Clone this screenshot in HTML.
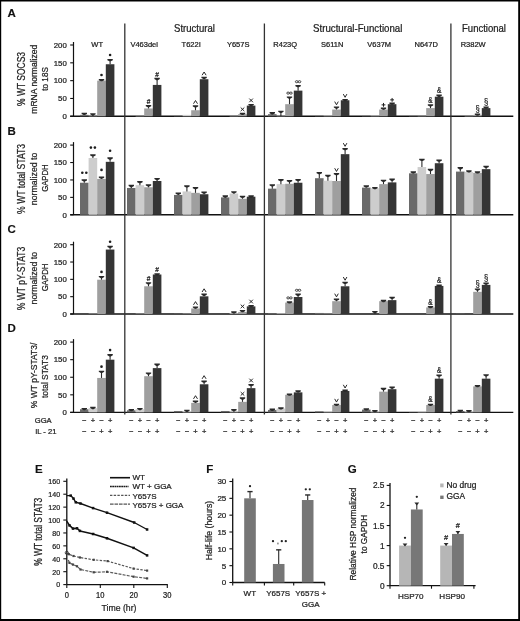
<!DOCTYPE html><html><head><meta charset="utf-8"><style>html,body{margin:0;padding:0;background:#fff;}svg{display:block;filter:blur(0.3px);}</style></head><body><svg width="520" height="621" viewBox="0 0 520 621" font-family='"Liberation Sans", sans-serif'>
<rect x="0" y="0" width="520" height="621" fill="#fff"/>
<text x="7.5" y="16.9" font-size="11.5" text-anchor="start" font-weight="bold" fill="#111" stroke="#111" stroke-width="0.15">A</text>
<line x1="73.5" y1="42.0" x2="73.5" y2="116.3" stroke="#111" stroke-width="1.2"/>
<line x1="70.2" y1="116.3" x2="73.5" y2="116.3" stroke="#111" stroke-width="1.1"/>
<text x="66.8" y="119.1" font-size="7.8" text-anchor="end" font-weight="normal" fill="#222" stroke="#222" stroke-width="0.24">0</text>
<line x1="70.2" y1="98.475" x2="73.5" y2="98.475" stroke="#111" stroke-width="1.1"/>
<text x="66.8" y="101.27499999999999" font-size="7.8" text-anchor="end" font-weight="normal" fill="#222" stroke="#222" stroke-width="0.24">50</text>
<line x1="70.2" y1="80.65" x2="73.5" y2="80.65" stroke="#111" stroke-width="1.1"/>
<text x="66.8" y="83.45" font-size="7.8" text-anchor="end" font-weight="normal" fill="#222" stroke="#222" stroke-width="0.24">100</text>
<line x1="70.2" y1="62.825" x2="73.5" y2="62.825" stroke="#111" stroke-width="1.1"/>
<text x="66.8" y="65.625" font-size="7.8" text-anchor="end" font-weight="normal" fill="#222" stroke="#222" stroke-width="0.24">150</text>
<line x1="70.2" y1="45.0" x2="73.5" y2="45.0" stroke="#111" stroke-width="1.1"/>
<text x="66.8" y="47.8" font-size="7.8" text-anchor="end" font-weight="normal" fill="#222" stroke="#222" stroke-width="0.24">200</text>
<line x1="70.2" y1="116.3" x2="513.3" y2="116.3" stroke="#111" stroke-width="1.4"/>
<text x="25.3" y="79.0" font-size="10.0" text-anchor="middle" font-weight="normal" fill="#222" stroke="#222" stroke-width="0.24" transform="rotate(-90 25.3 79.0)" textLength="54" lengthAdjust="spacingAndGlyphs">% WT SOCS3</text>
<text x="36.7" y="79.2" font-size="8.7" text-anchor="middle" font-weight="normal" fill="#222" stroke="#222" stroke-width="0.24" transform="rotate(-90 36.7 79.2)" textLength="69" lengthAdjust="spacingAndGlyphs">mRNA normalized</text>
<text x="47.9" y="78.9" font-size="9.0" text-anchor="middle" font-weight="normal" fill="#222" stroke="#222" stroke-width="0.24" transform="rotate(-90 47.9 78.9)" textLength="23.5" lengthAdjust="spacingAndGlyphs">to 18S</text>
<rect x="80.00" y="114.87" width="8.60" height="1.43" fill="#6a6a6a"/>
<line x1="84.3" y1="114.874" x2="84.3" y2="113.80449999999999" stroke="#2a2a2a" stroke-width="1.1"/>
<path d="M81.60,112.80 L87.00,112.80 L87.00,114.00 L85.00,115.10 L83.60,115.10 L81.60,114.00 Z" fill="#2a2a2a"/>
<rect x="88.60" y="115.94" width="8.60" height="0.36" fill="#cdcdcd"/>
<line x1="92.89999999999999" y1="115.9435" x2="92.89999999999999" y2="114.161" stroke="#2a2a2a" stroke-width="1.1"/>
<path d="M90.20,113.16 L95.60,113.16 L95.60,114.36 L93.60,115.46 L92.20,115.46 L90.20,114.36 Z" fill="#2a2a2a"/>
<rect x="97.20" y="80.65" width="8.60" height="35.65" fill="#9f9f9f"/>
<line x1="101.5" y1="80.65" x2="101.5" y2="79.93700000000001" stroke="#2a2a2a" stroke-width="1.1"/>
<path d="M98.80,78.94 L104.20,78.94 L104.20,80.14 L102.20,81.24 L100.80,81.24 L98.80,80.14 Z" fill="#2a2a2a"/>
<circle cx="101.50" cy="74.94" r="1.3" fill="#1e1e1e"/>
<rect x="105.80" y="64.25" width="8.60" height="52.05" fill="#353535"/>
<line x1="110.1" y1="64.251" x2="110.1" y2="59.973000000000006" stroke="#2a2a2a" stroke-width="1.1"/>
<path d="M107.40,58.97 L112.80,58.97 L112.80,60.17 L110.80,61.27 L109.40,61.27 L107.40,60.17 Z" fill="#2a2a2a"/>
<circle cx="110.10" cy="54.97" r="1.3" fill="#1e1e1e"/>
<rect x="135.60" y="115.94" width="8.60" height="0.36" fill="#cdcdcd"/>
<rect x="144.20" y="108.46" width="8.60" height="7.84" fill="#9f9f9f"/>
<line x1="148.5" y1="108.457" x2="148.5" y2="105.9615" stroke="#2a2a2a" stroke-width="1.1"/>
<path d="M145.80,104.96 L151.20,104.96 L151.20,106.16 L149.20,107.26 L147.80,107.26 L145.80,106.16 Z" fill="#2a2a2a"/>
<text x="148.5" y="103.6319" font-size="6.6" text-anchor="middle" font-weight="normal" fill="#1e1e1e" stroke="#1e1e1e" stroke-width="0.24">#</text>
<rect x="152.80" y="84.93" width="8.60" height="31.37" fill="#353535"/>
<line x1="157.10000000000002" y1="84.928" x2="157.10000000000002" y2="78.86749999999999" stroke="#2a2a2a" stroke-width="1.1"/>
<path d="M154.40,77.87 L159.80,77.87 L159.80,79.07 L157.80,80.17 L156.40,80.17 L154.40,79.07 Z" fill="#2a2a2a"/>
<text x="157.10000000000002" y="76.5379" font-size="6.6" text-anchor="middle" font-weight="normal" fill="#1e1e1e" stroke="#1e1e1e" stroke-width="0.24">#</text>
<rect x="174.00" y="115.94" width="8.60" height="0.36" fill="#6a6a6a"/>
<rect x="182.60" y="114.87" width="8.60" height="1.43" fill="#cdcdcd"/>
<rect x="191.20" y="110.24" width="8.60" height="6.06" fill="#9f9f9f"/>
<line x1="195.5" y1="110.23949999999999" x2="195.5" y2="106.318" stroke="#2a2a2a" stroke-width="1.1"/>
<path d="M192.80,105.32 L198.20,105.32 L198.20,106.52 L196.20,107.62 L194.80,107.62 L192.80,106.52 Z" fill="#2a2a2a"/>
<polyline points="193.50,103.72 195.50,100.52 197.50,103.72" fill="none" stroke="#1e1e1e" stroke-width="0.95"/>
<rect x="199.80" y="79.22" width="8.60" height="37.08" fill="#353535"/>
<line x1="204.10000000000002" y1="79.22399999999999" x2="204.10000000000002" y2="77.79799999999999" stroke="#2a2a2a" stroke-width="1.1"/>
<path d="M201.40,76.80 L206.80,76.80 L206.80,78.00 L204.80,79.10 L203.40,79.10 L201.40,78.00 Z" fill="#2a2a2a"/>
<polyline points="202.10,75.20 204.10,72.00 206.10,75.20" fill="none" stroke="#1e1e1e" stroke-width="0.95"/>
<rect x="229.60" y="115.94" width="8.60" height="0.36" fill="#cdcdcd"/>
<rect x="238.20" y="114.16" width="8.60" height="2.14" fill="#9f9f9f"/>
<line x1="242.5" y1="114.161" x2="242.5" y2="113.8045" stroke="#2a2a2a" stroke-width="1.1"/>
<path d="M239.80,112.80 L245.20,112.80 L245.20,114.00 L243.20,115.10 L241.80,115.10 L239.80,114.00 Z" fill="#2a2a2a"/>
<path d="M240.70,107.50 L244.30,111.10 M244.30,107.50 L240.70,111.10" stroke="#1e1e1e" stroke-width="0.95"/>
<rect x="246.80" y="105.60" width="8.60" height="10.70" fill="#353535"/>
<line x1="251.10000000000002" y1="105.60499999999999" x2="251.10000000000002" y2="104.892" stroke="#2a2a2a" stroke-width="1.1"/>
<path d="M248.40,103.89 L253.80,103.89 L253.80,105.09 L251.80,106.19 L250.40,106.19 L248.40,105.09 Z" fill="#2a2a2a"/>
<path d="M249.30,98.59 L252.90,102.19 M252.90,98.59 L249.30,102.19" stroke="#1e1e1e" stroke-width="0.95"/>
<rect x="268.00" y="114.16" width="8.60" height="2.14" fill="#6a6a6a"/>
<line x1="272.3" y1="114.161" x2="272.3" y2="113.0915" stroke="#2a2a2a" stroke-width="1.1"/>
<path d="M269.60,112.09 L275.00,112.09 L275.00,113.29 L273.00,114.39 L271.60,114.39 L269.60,113.29 Z" fill="#2a2a2a"/>
<rect x="276.60" y="115.94" width="8.60" height="0.36" fill="#cdcdcd"/>
<line x1="280.90000000000003" y1="115.9435" x2="280.90000000000003" y2="111.6655" stroke="#2a2a2a" stroke-width="1.1"/>
<path d="M278.20,110.67 L283.60,110.67 L283.60,111.87 L281.60,112.97 L280.20,112.97 L278.20,111.87 Z" fill="#2a2a2a"/>
<rect x="285.20" y="104.18" width="8.60" height="12.12" fill="#9f9f9f"/>
<line x1="289.5" y1="104.179" x2="289.5" y2="97.4055" stroke="#2a2a2a" stroke-width="1.1"/>
<path d="M286.80,96.41 L292.20,96.41 L292.20,97.61 L290.20,98.71 L288.80,98.71 L286.80,97.61 Z" fill="#2a2a2a"/>
<ellipse cx="288.10" cy="93.11" rx="1.35" ry="1.05" fill="none" stroke="#1e1e1e" stroke-width="0.8"/>
<ellipse cx="290.90" cy="93.11" rx="1.35" ry="1.05" fill="none" stroke="#1e1e1e" stroke-width="0.8"/>
<rect x="293.80" y="90.63" width="8.60" height="25.67" fill="#353535"/>
<line x1="298.1" y1="90.632" x2="298.1" y2="85.9975" stroke="#2a2a2a" stroke-width="1.1"/>
<path d="M295.40,85.00 L300.80,85.00 L300.80,86.20 L298.80,87.30 L297.40,87.30 L295.40,86.20 Z" fill="#2a2a2a"/>
<ellipse cx="296.70" cy="81.70" rx="1.35" ry="1.05" fill="none" stroke="#1e1e1e" stroke-width="0.8"/>
<ellipse cx="299.50" cy="81.70" rx="1.35" ry="1.05" fill="none" stroke="#1e1e1e" stroke-width="0.8"/>
<rect x="315.00" y="115.94" width="8.60" height="0.36" fill="#6a6a6a"/>
<rect x="323.60" y="115.59" width="8.60" height="0.71" fill="#cdcdcd"/>
<rect x="332.20" y="109.53" width="8.60" height="6.77" fill="#9f9f9f"/>
<line x1="336.5" y1="109.5265" x2="336.5" y2="107.3875" stroke="#2a2a2a" stroke-width="1.1"/>
<path d="M333.80,106.39 L339.20,106.39 L339.20,107.59 L337.20,108.69 L335.80,108.69 L333.80,107.59 Z" fill="#2a2a2a"/>
<polyline points="334.70,101.59 336.50,104.79 338.30,101.59" fill="none" stroke="#1e1e1e" stroke-width="0.95"/>
<rect x="340.80" y="100.26" width="8.60" height="16.04" fill="#353535"/>
<line x1="345.1" y1="100.2575" x2="345.1" y2="99.901" stroke="#2a2a2a" stroke-width="1.1"/>
<path d="M342.40,98.90 L347.80,98.90 L347.80,100.10 L345.80,101.20 L344.40,101.20 L342.40,100.10 Z" fill="#2a2a2a"/>
<polyline points="343.30,94.10 345.10,97.30 346.90,94.10" fill="none" stroke="#1e1e1e" stroke-width="0.95"/>
<rect x="362.00" y="115.94" width="8.60" height="0.36" fill="#6a6a6a"/>
<rect x="370.60" y="115.59" width="8.60" height="0.71" fill="#cdcdcd"/>
<rect x="379.20" y="109.53" width="8.60" height="6.77" fill="#9f9f9f"/>
<line x1="383.5" y1="109.5265" x2="383.5" y2="108.457" stroke="#2a2a2a" stroke-width="1.1"/>
<path d="M380.80,107.46 L386.20,107.46 L386.20,108.66 L384.20,109.76 L382.80,109.76 L380.80,108.66 Z" fill="#2a2a2a"/>
<path d="M381.60,104.86 L385.40,104.86 M383.50,102.96 L383.50,106.76" stroke="#1e1e1e" stroke-width="1.0"/>
<rect x="387.80" y="104.18" width="8.60" height="12.12" fill="#353535"/>
<line x1="392.1" y1="104.179" x2="392.1" y2="103.46600000000001" stroke="#2a2a2a" stroke-width="1.1"/>
<path d="M389.40,102.47 L394.80,102.47 L394.80,103.67 L392.80,104.77 L391.40,104.77 L389.40,103.67 Z" fill="#2a2a2a"/>
<path d="M390.20,99.87 L394.00,99.87 M392.10,97.97 L392.10,101.77" stroke="#1e1e1e" stroke-width="1.0"/>
<rect x="409.00" y="115.94" width="8.60" height="0.36" fill="#6a6a6a"/>
<rect x="417.60" y="115.94" width="8.60" height="0.36" fill="#cdcdcd"/>
<rect x="426.20" y="108.10" width="8.60" height="8.20" fill="#9f9f9f"/>
<line x1="430.5" y1="108.1005" x2="430.5" y2="105.24849999999999" stroke="#2a2a2a" stroke-width="1.1"/>
<path d="M427.80,104.25 L433.20,104.25 L433.20,105.45 L431.20,106.55 L429.80,106.55 L427.80,105.45 Z" fill="#2a2a2a"/>
<text x="430.5" y="102.7045" font-size="8.8" text-anchor="middle" font-weight="normal" fill="#1e1e1e" stroke="#1e1e1e" stroke-width="0.24" textLength="4.4" lengthAdjust="spacingAndGlyphs">&amp;</text>
<rect x="434.80" y="96.69" width="8.60" height="19.61" fill="#353535"/>
<line x1="439.1" y1="96.6925" x2="439.1" y2="95.62299999999999" stroke="#2a2a2a" stroke-width="1.1"/>
<path d="M436.40,94.62 L441.80,94.62 L441.80,95.82 L439.80,96.92 L438.40,96.92 L436.40,95.82 Z" fill="#2a2a2a"/>
<text x="439.1" y="93.079" font-size="8.8" text-anchor="middle" font-weight="normal" fill="#1e1e1e" stroke="#1e1e1e" stroke-width="0.24" textLength="4.4" lengthAdjust="spacingAndGlyphs">&amp;</text>
<rect x="464.60" y="115.94" width="8.60" height="0.36" fill="#cdcdcd"/>
<rect x="473.20" y="114.87" width="8.60" height="1.43" fill="#9f9f9f"/>
<line x1="477.5" y1="114.874" x2="477.5" y2="114.5175" stroke="#2a2a2a" stroke-width="1.1"/>
<path d="M474.80,113.52 L480.20,113.52 L480.20,114.72 L478.20,115.82 L476.80,115.82 L474.80,114.72 Z" fill="#2a2a2a"/>
<text x="477.5" y="112.4975" font-size="8.6" text-anchor="middle" font-weight="normal" fill="#1e1e1e" stroke="#1e1e1e" stroke-width="0.24" textLength="4.2" lengthAdjust="spacingAndGlyphs">§</text>
<rect x="481.80" y="108.10" width="8.60" height="8.20" fill="#353535"/>
<line x1="486.1" y1="108.1005" x2="486.1" y2="107.3875" stroke="#2a2a2a" stroke-width="1.1"/>
<path d="M483.40,106.39 L488.80,106.39 L488.80,107.59 L486.80,108.69 L485.40,108.69 L483.40,107.59 Z" fill="#2a2a2a"/>
<text x="486.1" y="105.3675" font-size="8.6" text-anchor="middle" font-weight="normal" fill="#1e1e1e" stroke="#1e1e1e" stroke-width="0.24" textLength="4.2" lengthAdjust="spacingAndGlyphs">§</text>
<text x="7.5" y="134.6" font-size="11.5" text-anchor="start" font-weight="bold" fill="#111" stroke="#111" stroke-width="0.15">B</text>
<line x1="73.5" y1="142.1" x2="73.5" y2="214.8" stroke="#111" stroke-width="1.2"/>
<line x1="70.2" y1="214.8" x2="73.5" y2="214.8" stroke="#111" stroke-width="1.1"/>
<text x="66.8" y="217.60000000000002" font-size="7.8" text-anchor="end" font-weight="normal" fill="#222" stroke="#222" stroke-width="0.24">0</text>
<line x1="70.2" y1="197.375" x2="73.5" y2="197.375" stroke="#111" stroke-width="1.1"/>
<text x="66.8" y="200.175" font-size="7.8" text-anchor="end" font-weight="normal" fill="#222" stroke="#222" stroke-width="0.24">50</text>
<line x1="70.2" y1="179.95" x2="73.5" y2="179.95" stroke="#111" stroke-width="1.1"/>
<text x="66.8" y="182.75" font-size="7.8" text-anchor="end" font-weight="normal" fill="#222" stroke="#222" stroke-width="0.24">100</text>
<line x1="70.2" y1="162.525" x2="73.5" y2="162.525" stroke="#111" stroke-width="1.1"/>
<text x="66.8" y="165.32500000000002" font-size="7.8" text-anchor="end" font-weight="normal" fill="#222" stroke="#222" stroke-width="0.24">150</text>
<line x1="70.2" y1="145.1" x2="73.5" y2="145.1" stroke="#111" stroke-width="1.1"/>
<text x="66.8" y="147.9" font-size="7.8" text-anchor="end" font-weight="normal" fill="#222" stroke="#222" stroke-width="0.24">200</text>
<line x1="70.2" y1="214.8" x2="513.3" y2="214.8" stroke="#111" stroke-width="1.4"/>
<text x="25.3" y="178.9" font-size="10.0" text-anchor="middle" font-weight="normal" fill="#222" stroke="#222" stroke-width="0.24" transform="rotate(-90 25.3 178.9)" textLength="70" lengthAdjust="spacingAndGlyphs">% WT total STAT3</text>
<text x="36.7" y="178.9" font-size="8.7" text-anchor="middle" font-weight="normal" fill="#222" stroke="#222" stroke-width="0.24" transform="rotate(-90 36.7 178.9)" textLength="52.5" lengthAdjust="spacingAndGlyphs">normalized to</text>
<text x="47.9" y="178.1" font-size="9.0" text-anchor="middle" font-weight="normal" fill="#222" stroke="#222" stroke-width="0.24" transform="rotate(-90 47.9 178.1)" textLength="27.5" lengthAdjust="spacingAndGlyphs">GAPDH</text>
<rect x="80.00" y="182.74" width="8.60" height="32.06" fill="#6a6a6a"/>
<line x1="84.3" y1="182.738" x2="84.3" y2="180.2985" stroke="#2a2a2a" stroke-width="1.1"/>
<path d="M81.60,179.30 L87.00,179.30 L87.00,180.50 L85.00,181.60 L83.60,181.60 L81.60,180.50 Z" fill="#2a2a2a"/>
<circle cx="82.30" cy="172.70" r="1.3" fill="#1e1e1e"/>
<circle cx="86.30" cy="172.70" r="1.3" fill="#1e1e1e"/>
<rect x="88.60" y="157.99" width="8.60" height="56.81" fill="#cdcdcd"/>
<line x1="92.89999999999999" y1="157.9945" x2="92.89999999999999" y2="155.20649999999998" stroke="#2a2a2a" stroke-width="1.1"/>
<path d="M90.20,154.21 L95.60,154.21 L95.60,155.41 L93.60,156.51 L92.20,156.51 L90.20,155.41 Z" fill="#2a2a2a"/>
<circle cx="90.90" cy="147.61" r="1.3" fill="#1e1e1e"/>
<circle cx="94.90" cy="147.61" r="1.3" fill="#1e1e1e"/>
<rect x="97.20" y="178.90" width="8.60" height="35.90" fill="#9f9f9f"/>
<line x1="101.5" y1="178.9045" x2="101.5" y2="177.5105" stroke="#2a2a2a" stroke-width="1.1"/>
<path d="M98.80,176.51 L104.20,176.51 L104.20,177.71 L102.20,178.81 L100.80,178.81 L98.80,177.71 Z" fill="#2a2a2a"/>
<circle cx="101.50" cy="169.91" r="1.3" fill="#1e1e1e"/>
<rect x="105.80" y="161.83" width="8.60" height="52.97" fill="#353535"/>
<line x1="110.1" y1="161.828" x2="110.1" y2="158.343" stroke="#2a2a2a" stroke-width="1.1"/>
<path d="M107.40,157.34 L112.80,157.34 L112.80,158.54 L110.80,159.64 L109.40,159.64 L107.40,158.54 Z" fill="#2a2a2a"/>
<circle cx="110.10" cy="150.74" r="1.3" fill="#1e1e1e"/>
<rect x="127.00" y="187.97" width="8.60" height="26.83" fill="#6a6a6a"/>
<line x1="131.3" y1="187.96550000000002" x2="131.3" y2="185.8745" stroke="#2a2a2a" stroke-width="1.1"/>
<path d="M128.60,184.87 L134.00,184.87 L134.00,186.07 L132.00,187.17 L130.60,187.17 L128.60,186.07 Z" fill="#2a2a2a"/>
<rect x="135.60" y="185.18" width="8.60" height="29.62" fill="#cdcdcd"/>
<line x1="139.9" y1="185.1775" x2="139.9" y2="182.041" stroke="#2a2a2a" stroke-width="1.1"/>
<path d="M137.20,181.04 L142.60,181.04 L142.60,182.24 L140.60,183.34 L139.20,183.34 L137.20,182.24 Z" fill="#2a2a2a"/>
<rect x="144.20" y="187.27" width="8.60" height="27.53" fill="#9f9f9f"/>
<line x1="148.5" y1="187.26850000000002" x2="148.5" y2="185.1775" stroke="#2a2a2a" stroke-width="1.1"/>
<path d="M145.80,184.18 L151.20,184.18 L151.20,185.38 L149.20,186.48 L147.80,186.48 L145.80,185.38 Z" fill="#2a2a2a"/>
<rect x="152.80" y="181.00" width="8.60" height="33.80" fill="#353535"/>
<line x1="157.10000000000002" y1="180.9955" x2="157.10000000000002" y2="178.90449999999998" stroke="#2a2a2a" stroke-width="1.1"/>
<path d="M154.40,177.90 L159.80,177.90 L159.80,179.10 L157.80,180.20 L156.40,180.20 L154.40,179.10 Z" fill="#2a2a2a"/>
<rect x="174.00" y="194.94" width="8.60" height="19.86" fill="#6a6a6a"/>
<line x1="178.3" y1="194.9355" x2="178.3" y2="193.54149999999998" stroke="#2a2a2a" stroke-width="1.1"/>
<path d="M175.60,192.54 L181.00,192.54 L181.00,193.74 L179.00,194.84 L177.60,194.84 L175.60,193.74 Z" fill="#2a2a2a"/>
<rect x="182.60" y="191.45" width="8.60" height="23.35" fill="#cdcdcd"/>
<line x1="186.9" y1="191.4505" x2="186.9" y2="186.223" stroke="#2a2a2a" stroke-width="1.1"/>
<path d="M184.20,185.22 L189.60,185.22 L189.60,186.42 L187.60,187.52 L186.20,187.52 L184.20,186.42 Z" fill="#2a2a2a"/>
<rect x="191.20" y="192.84" width="8.60" height="21.96" fill="#9f9f9f"/>
<line x1="195.5" y1="192.8445" x2="195.5" y2="187.96550000000002" stroke="#2a2a2a" stroke-width="1.1"/>
<path d="M192.80,186.97 L198.20,186.97 L198.20,188.17 L196.20,189.27 L194.80,189.27 L192.80,188.17 Z" fill="#2a2a2a"/>
<rect x="199.80" y="194.24" width="8.60" height="20.56" fill="#353535"/>
<line x1="204.10000000000002" y1="194.23850000000002" x2="204.10000000000002" y2="192.496" stroke="#2a2a2a" stroke-width="1.1"/>
<path d="M201.40,191.50 L206.80,191.50 L206.80,192.70 L204.80,193.80 L203.40,193.80 L201.40,192.70 Z" fill="#2a2a2a"/>
<rect x="221.00" y="197.38" width="8.60" height="17.43" fill="#6a6a6a"/>
<line x1="225.3" y1="197.375" x2="225.3" y2="196.3295" stroke="#2a2a2a" stroke-width="1.1"/>
<path d="M222.60,195.33 L228.00,195.33 L228.00,196.53 L226.00,197.63 L224.60,197.63 L222.60,196.53 Z" fill="#2a2a2a"/>
<rect x="229.60" y="193.54" width="8.60" height="21.26" fill="#cdcdcd"/>
<line x1="233.9" y1="193.5415" x2="233.9" y2="192.1475" stroke="#2a2a2a" stroke-width="1.1"/>
<path d="M231.20,191.15 L236.60,191.15 L236.60,192.35 L234.60,193.45 L233.20,193.45 L231.20,192.35 Z" fill="#2a2a2a"/>
<rect x="238.20" y="198.77" width="8.60" height="16.03" fill="#9f9f9f"/>
<line x1="242.5" y1="198.769" x2="242.5" y2="196.678" stroke="#2a2a2a" stroke-width="1.1"/>
<path d="M239.80,195.68 L245.20,195.68 L245.20,196.88 L243.20,197.98 L241.80,197.98 L239.80,196.88 Z" fill="#2a2a2a"/>
<rect x="246.80" y="196.68" width="8.60" height="18.12" fill="#353535"/>
<line x1="251.10000000000002" y1="196.678" x2="251.10000000000002" y2="196.3295" stroke="#2a2a2a" stroke-width="1.1"/>
<path d="M248.40,195.33 L253.80,195.33 L253.80,196.53 L251.80,197.63 L250.40,197.63 L248.40,196.53 Z" fill="#2a2a2a"/>
<rect x="268.00" y="188.66" width="8.60" height="26.14" fill="#6a6a6a"/>
<line x1="272.3" y1="188.6625" x2="272.3" y2="185.17749999999998" stroke="#2a2a2a" stroke-width="1.1"/>
<path d="M269.60,184.18 L275.00,184.18 L275.00,185.38 L273.00,186.48 L271.60,186.48 L269.60,185.38 Z" fill="#2a2a2a"/>
<rect x="276.60" y="184.13" width="8.60" height="30.67" fill="#cdcdcd"/>
<line x1="280.90000000000003" y1="184.132" x2="280.90000000000003" y2="179.95000000000002" stroke="#2a2a2a" stroke-width="1.1"/>
<path d="M278.20,178.95 L283.60,178.95 L283.60,180.15 L281.60,181.25 L280.20,181.25 L278.20,180.15 Z" fill="#2a2a2a"/>
<rect x="285.20" y="183.78" width="8.60" height="31.02" fill="#9f9f9f"/>
<line x1="289.5" y1="183.7835" x2="289.5" y2="180.9955" stroke="#2a2a2a" stroke-width="1.1"/>
<path d="M286.80,180.00 L292.20,180.00 L292.20,181.20 L290.20,182.30 L288.80,182.30 L286.80,181.20 Z" fill="#2a2a2a"/>
<rect x="293.80" y="182.74" width="8.60" height="32.06" fill="#353535"/>
<line x1="298.1" y1="182.738" x2="298.1" y2="179.95" stroke="#2a2a2a" stroke-width="1.1"/>
<path d="M295.40,178.95 L300.80,178.95 L300.80,180.15 L298.80,181.25 L297.40,181.25 L295.40,180.15 Z" fill="#2a2a2a"/>
<rect x="315.00" y="178.21" width="8.60" height="36.59" fill="#6a6a6a"/>
<line x1="319.3" y1="178.2075" x2="319.3" y2="172.98000000000002" stroke="#2a2a2a" stroke-width="1.1"/>
<path d="M316.60,171.98 L322.00,171.98 L322.00,173.18 L320.00,174.28 L318.60,174.28 L316.60,173.18 Z" fill="#2a2a2a"/>
<rect x="323.60" y="180.65" width="8.60" height="34.15" fill="#cdcdcd"/>
<line x1="327.90000000000003" y1="180.647" x2="327.90000000000003" y2="175.768" stroke="#2a2a2a" stroke-width="1.1"/>
<path d="M325.20,174.77 L330.60,174.77 L330.60,175.97 L328.60,177.07 L327.20,177.07 L325.20,175.97 Z" fill="#2a2a2a"/>
<rect x="332.20" y="181.00" width="8.60" height="33.80" fill="#9f9f9f"/>
<line x1="336.5" y1="180.9955" x2="336.5" y2="174.0255" stroke="#2a2a2a" stroke-width="1.1"/>
<path d="M333.80,173.03 L339.20,173.03 L339.20,174.23 L337.20,175.33 L335.80,175.33 L333.80,174.23 Z" fill="#2a2a2a"/>
<polyline points="334.70,168.23 336.50,171.43 338.30,168.23" fill="none" stroke="#1e1e1e" stroke-width="0.95"/>
<rect x="340.80" y="154.16" width="8.60" height="60.64" fill="#353535"/>
<line x1="345.1" y1="154.161" x2="345.1" y2="148.9335" stroke="#2a2a2a" stroke-width="1.1"/>
<path d="M342.40,147.93 L347.80,147.93 L347.80,149.13 L345.80,150.23 L344.40,150.23 L342.40,149.13 Z" fill="#2a2a2a"/>
<polyline points="343.30,143.13 345.10,146.33 346.90,143.13" fill="none" stroke="#1e1e1e" stroke-width="0.95"/>
<rect x="362.00" y="187.62" width="8.60" height="27.18" fill="#6a6a6a"/>
<line x1="366.3" y1="187.61700000000002" x2="366.3" y2="186.223" stroke="#2a2a2a" stroke-width="1.1"/>
<path d="M363.60,185.22 L369.00,185.22 L369.00,186.42 L367.00,187.52 L365.60,187.52 L363.60,186.42 Z" fill="#2a2a2a"/>
<rect x="370.60" y="188.31" width="8.60" height="26.49" fill="#cdcdcd"/>
<line x1="374.90000000000003" y1="188.314" x2="374.90000000000003" y2="187.9655" stroke="#2a2a2a" stroke-width="1.1"/>
<path d="M372.20,186.97 L377.60,186.97 L377.60,188.17 L375.60,189.27 L374.20,189.27 L372.20,188.17 Z" fill="#2a2a2a"/>
<rect x="379.20" y="184.13" width="8.60" height="30.67" fill="#9f9f9f"/>
<line x1="383.5" y1="184.132" x2="383.5" y2="180.647" stroke="#2a2a2a" stroke-width="1.1"/>
<path d="M380.80,179.65 L386.20,179.65 L386.20,180.85 L384.20,181.95 L382.80,181.95 L380.80,180.85 Z" fill="#2a2a2a"/>
<rect x="387.80" y="182.39" width="8.60" height="32.41" fill="#353535"/>
<line x1="392.1" y1="182.3895" x2="392.1" y2="179.6015" stroke="#2a2a2a" stroke-width="1.1"/>
<path d="M389.40,178.60 L394.80,178.60 L394.80,179.80 L392.80,180.90 L391.40,180.90 L389.40,179.80 Z" fill="#2a2a2a"/>
<rect x="409.00" y="173.33" width="8.60" height="41.47" fill="#6a6a6a"/>
<line x1="413.3" y1="173.3285" x2="413.3" y2="172.283" stroke="#2a2a2a" stroke-width="1.1"/>
<path d="M410.60,171.28 L416.00,171.28 L416.00,172.48 L414.00,173.58 L412.60,173.58 L410.60,172.48 Z" fill="#2a2a2a"/>
<rect x="417.60" y="167.06" width="8.60" height="47.74" fill="#cdcdcd"/>
<line x1="421.90000000000003" y1="167.0555" x2="421.90000000000003" y2="159.737" stroke="#2a2a2a" stroke-width="1.1"/>
<path d="M419.20,158.74 L424.60,158.74 L424.60,159.94 L422.60,161.04 L421.20,161.04 L419.20,159.94 Z" fill="#2a2a2a"/>
<rect x="426.20" y="174.03" width="8.60" height="40.77" fill="#9f9f9f"/>
<line x1="430.5" y1="174.0255" x2="430.5" y2="169.8435" stroke="#2a2a2a" stroke-width="1.1"/>
<path d="M427.80,168.84 L433.20,168.84 L433.20,170.04 L431.20,171.14 L429.80,171.14 L427.80,170.04 Z" fill="#2a2a2a"/>
<rect x="434.80" y="163.22" width="8.60" height="51.58" fill="#353535"/>
<line x1="439.1" y1="163.222" x2="439.1" y2="160.434" stroke="#2a2a2a" stroke-width="1.1"/>
<path d="M436.40,159.43 L441.80,159.43 L441.80,160.63 L439.80,161.73 L438.40,161.73 L436.40,160.63 Z" fill="#2a2a2a"/>
<rect x="456.00" y="171.59" width="8.60" height="43.21" fill="#6a6a6a"/>
<line x1="460.3" y1="171.586" x2="460.3" y2="168.101" stroke="#2a2a2a" stroke-width="1.1"/>
<path d="M457.60,167.10 L463.00,167.10 L463.00,168.30 L461.00,169.40 L459.60,169.40 L457.60,168.30 Z" fill="#2a2a2a"/>
<rect x="464.60" y="171.93" width="8.60" height="42.87" fill="#cdcdcd"/>
<line x1="468.90000000000003" y1="171.9345" x2="468.90000000000003" y2="171.2375" stroke="#2a2a2a" stroke-width="1.1"/>
<path d="M466.20,170.24 L471.60,170.24 L471.60,171.44 L469.60,172.54 L468.20,172.54 L466.20,171.44 Z" fill="#2a2a2a"/>
<rect x="473.20" y="172.98" width="8.60" height="41.82" fill="#9f9f9f"/>
<line x1="477.5" y1="172.98000000000002" x2="477.5" y2="172.28300000000002" stroke="#2a2a2a" stroke-width="1.1"/>
<path d="M474.80,171.28 L480.20,171.28 L480.20,172.48 L478.20,173.58 L476.80,173.58 L474.80,172.48 Z" fill="#2a2a2a"/>
<rect x="481.80" y="169.15" width="8.60" height="45.65" fill="#353535"/>
<line x1="486.1" y1="169.1465" x2="486.1" y2="166.707" stroke="#2a2a2a" stroke-width="1.1"/>
<path d="M483.40,165.71 L488.80,165.71 L488.80,166.91 L486.80,168.01 L485.40,168.01 L483.40,166.91 Z" fill="#2a2a2a"/>
<text x="7.5" y="233.1" font-size="11.5" text-anchor="start" font-weight="bold" fill="#111" stroke="#111" stroke-width="0.15">C</text>
<line x1="73.5" y1="241.7" x2="73.5" y2="314.0" stroke="#111" stroke-width="1.2"/>
<line x1="70.2" y1="314.0" x2="73.5" y2="314.0" stroke="#111" stroke-width="1.1"/>
<text x="66.8" y="316.8" font-size="7.8" text-anchor="end" font-weight="normal" fill="#222" stroke="#222" stroke-width="0.24">0</text>
<line x1="70.2" y1="296.675" x2="73.5" y2="296.675" stroke="#111" stroke-width="1.1"/>
<text x="66.8" y="299.475" font-size="7.8" text-anchor="end" font-weight="normal" fill="#222" stroke="#222" stroke-width="0.24">50</text>
<line x1="70.2" y1="279.35" x2="73.5" y2="279.35" stroke="#111" stroke-width="1.1"/>
<text x="66.8" y="282.15000000000003" font-size="7.8" text-anchor="end" font-weight="normal" fill="#222" stroke="#222" stroke-width="0.24">100</text>
<line x1="70.2" y1="262.025" x2="73.5" y2="262.025" stroke="#111" stroke-width="1.1"/>
<text x="66.8" y="264.825" font-size="7.8" text-anchor="end" font-weight="normal" fill="#222" stroke="#222" stroke-width="0.24">150</text>
<line x1="70.2" y1="244.7" x2="73.5" y2="244.7" stroke="#111" stroke-width="1.1"/>
<text x="66.8" y="247.5" font-size="7.8" text-anchor="end" font-weight="normal" fill="#222" stroke="#222" stroke-width="0.24">200</text>
<line x1="70.2" y1="314.0" x2="513.3" y2="314.0" stroke="#111" stroke-width="1.4"/>
<text x="25.3" y="278.5" font-size="10.0" text-anchor="middle" font-weight="normal" fill="#222" stroke="#222" stroke-width="0.24" transform="rotate(-90 25.3 278.5)" textLength="63.5" lengthAdjust="spacingAndGlyphs">% WT pY-STAT3</text>
<text x="36.7" y="278.2" font-size="8.7" text-anchor="middle" font-weight="normal" fill="#222" stroke="#222" stroke-width="0.24" transform="rotate(-90 36.7 278.2)" textLength="52.5" lengthAdjust="spacingAndGlyphs">normalized to</text>
<text x="47.9" y="277.4" font-size="9.0" text-anchor="middle" font-weight="normal" fill="#222" stroke="#222" stroke-width="0.24" transform="rotate(-90 47.9 277.4)" textLength="27.5" lengthAdjust="spacingAndGlyphs">GAPDH</text>
<rect x="88.60" y="313.65" width="8.60" height="0.35" fill="#cdcdcd"/>
<rect x="97.20" y="279.70" width="8.60" height="34.30" fill="#9f9f9f"/>
<line x1="101.5" y1="279.6965" x2="101.5" y2="276.9245" stroke="#2a2a2a" stroke-width="1.1"/>
<path d="M98.80,275.92 L104.20,275.92 L104.20,277.12 L102.20,278.22 L100.80,278.22 L98.80,277.12 Z" fill="#2a2a2a"/>
<circle cx="101.50" cy="271.92" r="1.3" fill="#1e1e1e"/>
<rect x="105.80" y="249.55" width="8.60" height="64.45" fill="#353535"/>
<line x1="110.1" y1="249.551" x2="110.1" y2="246.779" stroke="#2a2a2a" stroke-width="1.1"/>
<path d="M107.40,245.78 L112.80,245.78 L112.80,246.98 L110.80,248.08 L109.40,248.08 L107.40,246.98 Z" fill="#2a2a2a"/>
<circle cx="110.10" cy="241.78" r="1.3" fill="#1e1e1e"/>
<rect x="135.60" y="313.65" width="8.60" height="0.35" fill="#cdcdcd"/>
<rect x="144.20" y="286.28" width="8.60" height="27.72" fill="#9f9f9f"/>
<line x1="148.5" y1="286.28" x2="148.5" y2="283.1615" stroke="#2a2a2a" stroke-width="1.1"/>
<path d="M145.80,282.16 L151.20,282.16 L151.20,283.36 L149.20,284.46 L147.80,284.46 L145.80,283.36 Z" fill="#2a2a2a"/>
<text x="148.5" y="280.83189999999996" font-size="6.6" text-anchor="middle" font-weight="normal" fill="#1e1e1e" stroke="#1e1e1e" stroke-width="0.24">#</text>
<rect x="152.80" y="274.50" width="8.60" height="39.50" fill="#353535"/>
<line x1="157.10000000000002" y1="274.499" x2="157.10000000000002" y2="274.15250000000003" stroke="#2a2a2a" stroke-width="1.1"/>
<path d="M154.40,273.15 L159.80,273.15 L159.80,274.35 L157.80,275.45 L156.40,275.45 L154.40,274.35 Z" fill="#2a2a2a"/>
<text x="157.10000000000002" y="271.8229" font-size="6.6" text-anchor="middle" font-weight="normal" fill="#1e1e1e" stroke="#1e1e1e" stroke-width="0.24">#</text>
<rect x="174.00" y="313.65" width="8.60" height="0.35" fill="#6a6a6a"/>
<rect x="182.60" y="313.65" width="8.60" height="0.35" fill="#cdcdcd"/>
<rect x="191.20" y="308.46" width="8.60" height="5.54" fill="#9f9f9f"/>
<line x1="195.5" y1="308.456" x2="195.5" y2="307.41650000000004" stroke="#2a2a2a" stroke-width="1.1"/>
<path d="M192.80,306.42 L198.20,306.42 L198.20,307.62 L196.20,308.72 L194.80,308.72 L192.80,307.62 Z" fill="#2a2a2a"/>
<polyline points="193.50,304.82 195.50,301.62 197.50,304.82" fill="none" stroke="#1e1e1e" stroke-width="0.95"/>
<rect x="199.80" y="296.33" width="8.60" height="17.67" fill="#353535"/>
<line x1="204.10000000000002" y1="296.3285" x2="204.10000000000002" y2="294.596" stroke="#2a2a2a" stroke-width="1.1"/>
<path d="M201.40,293.60 L206.80,293.60 L206.80,294.80 L204.80,295.90 L203.40,295.90 L201.40,294.80 Z" fill="#2a2a2a"/>
<polyline points="202.10,292.00 204.10,288.80 206.10,292.00" fill="none" stroke="#1e1e1e" stroke-width="0.95"/>
<rect x="229.60" y="313.31" width="8.60" height="0.69" fill="#cdcdcd"/>
<line x1="233.9" y1="313.307" x2="233.9" y2="312.26750000000004" stroke="#2a2a2a" stroke-width="1.1"/>
<path d="M231.20,311.27 L236.60,311.27 L236.60,312.47 L234.60,313.57 L233.20,313.57 L231.20,312.47 Z" fill="#2a2a2a"/>
<rect x="238.20" y="311.92" width="8.60" height="2.08" fill="#9f9f9f"/>
<line x1="242.5" y1="311.921" x2="242.5" y2="310.8815" stroke="#2a2a2a" stroke-width="1.1"/>
<path d="M239.80,309.88 L245.20,309.88 L245.20,311.08 L243.20,312.18 L241.80,312.18 L239.80,311.08 Z" fill="#2a2a2a"/>
<path d="M240.70,304.58 L244.30,308.18 M244.30,304.58 L240.70,308.18" stroke="#1e1e1e" stroke-width="0.95"/>
<rect x="246.80" y="306.38" width="8.60" height="7.62" fill="#353535"/>
<line x1="251.10000000000002" y1="306.377" x2="251.10000000000002" y2="306.0305" stroke="#2a2a2a" stroke-width="1.1"/>
<path d="M248.40,305.03 L253.80,305.03 L253.80,306.23 L251.80,307.33 L250.40,307.33 L248.40,306.23 Z" fill="#2a2a2a"/>
<path d="M249.30,299.73 L252.90,303.33 M252.90,299.73 L249.30,303.33" stroke="#1e1e1e" stroke-width="0.95"/>
<rect x="268.00" y="313.31" width="8.60" height="0.69" fill="#6a6a6a"/>
<rect x="276.60" y="313.31" width="8.60" height="0.69" fill="#cdcdcd"/>
<rect x="285.20" y="302.57" width="8.60" height="11.43" fill="#9f9f9f"/>
<line x1="289.5" y1="302.5655" x2="289.5" y2="302.219" stroke="#2a2a2a" stroke-width="1.1"/>
<path d="M286.80,301.22 L292.20,301.22 L292.20,302.42 L290.20,303.52 L288.80,303.52 L286.80,302.42 Z" fill="#2a2a2a"/>
<ellipse cx="288.10" cy="297.92" rx="1.35" ry="1.05" fill="none" stroke="#1e1e1e" stroke-width="0.8"/>
<ellipse cx="290.90" cy="297.92" rx="1.35" ry="1.05" fill="none" stroke="#1e1e1e" stroke-width="0.8"/>
<rect x="293.80" y="297.02" width="8.60" height="16.98" fill="#353535"/>
<line x1="298.1" y1="297.0215" x2="298.1" y2="294.596" stroke="#2a2a2a" stroke-width="1.1"/>
<path d="M295.40,293.60 L300.80,293.60 L300.80,294.80 L298.80,295.90 L297.40,295.90 L295.40,294.80 Z" fill="#2a2a2a"/>
<ellipse cx="296.70" cy="290.30" rx="1.35" ry="1.05" fill="none" stroke="#1e1e1e" stroke-width="0.8"/>
<ellipse cx="299.50" cy="290.30" rx="1.35" ry="1.05" fill="none" stroke="#1e1e1e" stroke-width="0.8"/>
<rect x="315.00" y="312.96" width="8.60" height="1.04" fill="#6a6a6a"/>
<rect x="323.60" y="313.65" width="8.60" height="0.35" fill="#cdcdcd"/>
<rect x="332.20" y="301.18" width="8.60" height="12.82" fill="#9f9f9f"/>
<line x1="336.5" y1="301.1795" x2="336.5" y2="299.447" stroke="#2a2a2a" stroke-width="1.1"/>
<path d="M333.80,298.45 L339.20,298.45 L339.20,299.65 L337.20,300.75 L335.80,300.75 L333.80,299.65 Z" fill="#2a2a2a"/>
<polyline points="334.70,293.65 336.50,296.85 338.30,293.65" fill="none" stroke="#1e1e1e" stroke-width="0.95"/>
<rect x="340.80" y="286.28" width="8.60" height="27.72" fill="#353535"/>
<line x1="345.1" y1="286.28" x2="345.1" y2="282.815" stroke="#2a2a2a" stroke-width="1.1"/>
<path d="M342.40,281.81 L347.80,281.81 L347.80,283.01 L345.80,284.12 L344.40,284.12 L342.40,283.01 Z" fill="#2a2a2a"/>
<polyline points="343.30,277.01 345.10,280.22 346.90,277.01" fill="none" stroke="#1e1e1e" stroke-width="0.95"/>
<line x1="374.90000000000003" y1="314.0" x2="374.90000000000003" y2="311.921" stroke="#2a2a2a" stroke-width="1.1"/>
<path d="M372.20,310.92 L377.60,310.92 L377.60,312.12 L375.60,313.22 L374.20,313.22 L372.20,312.12 Z" fill="#2a2a2a"/>
<rect x="379.20" y="301.18" width="8.60" height="12.82" fill="#9f9f9f"/>
<line x1="383.5" y1="301.1795" x2="383.5" y2="300.833" stroke="#2a2a2a" stroke-width="1.1"/>
<path d="M380.80,299.83 L386.20,299.83 L386.20,301.03 L384.20,302.13 L382.80,302.13 L380.80,301.03 Z" fill="#2a2a2a"/>
<rect x="387.80" y="300.14" width="8.60" height="13.86" fill="#353535"/>
<line x1="392.1" y1="300.14" x2="392.1" y2="297.7145" stroke="#2a2a2a" stroke-width="1.1"/>
<path d="M389.40,296.71 L394.80,296.71 L394.80,297.91 L392.80,299.01 L391.40,299.01 L389.40,297.91 Z" fill="#2a2a2a"/>
<rect x="426.20" y="307.42" width="8.60" height="6.58" fill="#9f9f9f"/>
<line x1="430.5" y1="307.4165" x2="430.5" y2="307.07" stroke="#2a2a2a" stroke-width="1.1"/>
<path d="M427.80,306.07 L433.20,306.07 L433.20,307.27 L431.20,308.37 L429.80,308.37 L427.80,307.27 Z" fill="#2a2a2a"/>
<text x="430.5" y="304.52599999999995" font-size="8.8" text-anchor="middle" font-weight="normal" fill="#1e1e1e" stroke="#1e1e1e" stroke-width="0.24" textLength="4.4" lengthAdjust="spacingAndGlyphs">&amp;</text>
<rect x="434.80" y="285.93" width="8.60" height="28.07" fill="#353535"/>
<line x1="439.1" y1="285.9335" x2="439.1" y2="285.587" stroke="#2a2a2a" stroke-width="1.1"/>
<path d="M436.40,284.59 L441.80,284.59 L441.80,285.79 L439.80,286.89 L438.40,286.89 L436.40,285.79 Z" fill="#2a2a2a"/>
<text x="439.1" y="283.043" font-size="8.8" text-anchor="middle" font-weight="normal" fill="#1e1e1e" stroke="#1e1e1e" stroke-width="0.24" textLength="4.4" lengthAdjust="spacingAndGlyphs">&amp;</text>
<rect x="456.00" y="313.65" width="8.60" height="0.35" fill="#6a6a6a"/>
<rect x="473.20" y="291.82" width="8.60" height="22.18" fill="#9f9f9f"/>
<line x1="477.5" y1="291.824" x2="477.5" y2="289.3985" stroke="#2a2a2a" stroke-width="1.1"/>
<path d="M474.80,288.40 L480.20,288.40 L480.20,289.60 L478.20,290.70 L476.80,290.70 L474.80,289.60 Z" fill="#2a2a2a"/>
<text x="477.5" y="287.3785" font-size="8.6" text-anchor="middle" font-weight="normal" fill="#1e1e1e" stroke="#1e1e1e" stroke-width="0.24" textLength="4.2" lengthAdjust="spacingAndGlyphs">§</text>
<rect x="481.80" y="284.89" width="8.60" height="29.11" fill="#353535"/>
<line x1="486.1" y1="284.894" x2="486.1" y2="283.508" stroke="#2a2a2a" stroke-width="1.1"/>
<path d="M483.40,282.51 L488.80,282.51 L488.80,283.71 L486.80,284.81 L485.40,284.81 L483.40,283.71 Z" fill="#2a2a2a"/>
<text x="486.1" y="281.48799999999994" font-size="8.6" text-anchor="middle" font-weight="normal" fill="#1e1e1e" stroke="#1e1e1e" stroke-width="0.24" textLength="4.2" lengthAdjust="spacingAndGlyphs">§</text>
<text x="7.5" y="331.9" font-size="11.5" text-anchor="start" font-weight="bold" fill="#111" stroke="#111" stroke-width="0.15">D</text>
<line x1="73.5" y1="339.1" x2="73.5" y2="412.4" stroke="#111" stroke-width="1.2"/>
<line x1="70.2" y1="412.4" x2="73.5" y2="412.4" stroke="#111" stroke-width="1.1"/>
<text x="66.8" y="415.2" font-size="7.8" text-anchor="end" font-weight="normal" fill="#222" stroke="#222" stroke-width="0.24">0</text>
<line x1="70.2" y1="394.825" x2="73.5" y2="394.825" stroke="#111" stroke-width="1.1"/>
<text x="66.8" y="397.625" font-size="7.8" text-anchor="end" font-weight="normal" fill="#222" stroke="#222" stroke-width="0.24">50</text>
<line x1="70.2" y1="377.25" x2="73.5" y2="377.25" stroke="#111" stroke-width="1.1"/>
<text x="66.8" y="380.05" font-size="7.8" text-anchor="end" font-weight="normal" fill="#222" stroke="#222" stroke-width="0.24">100</text>
<line x1="70.2" y1="359.675" x2="73.5" y2="359.675" stroke="#111" stroke-width="1.1"/>
<text x="66.8" y="362.475" font-size="7.8" text-anchor="end" font-weight="normal" fill="#222" stroke="#222" stroke-width="0.24">150</text>
<line x1="70.2" y1="342.1" x2="73.5" y2="342.1" stroke="#111" stroke-width="1.1"/>
<text x="66.8" y="344.90000000000003" font-size="7.8" text-anchor="end" font-weight="normal" fill="#222" stroke="#222" stroke-width="0.24">200</text>
<line x1="70.2" y1="412.4" x2="513.3" y2="412.4" stroke="#111" stroke-width="1.4"/>
<text x="36.9" y="375.4" font-size="9.6" text-anchor="middle" font-weight="normal" fill="#222" stroke="#222" stroke-width="0.24" transform="rotate(-90 36.9 375.4)" textLength="65.5" lengthAdjust="spacingAndGlyphs">% WT pY-STAT3/</text>
<text x="47.7" y="376.6" font-size="9.4" text-anchor="middle" font-weight="normal" fill="#222" stroke="#222" stroke-width="0.24" transform="rotate(-90 47.7 376.6)" textLength="42.8" lengthAdjust="spacingAndGlyphs">total STAT3</text>
<rect x="80.00" y="409.24" width="8.60" height="3.16" fill="#6a6a6a"/>
<line x1="84.3" y1="409.2365" x2="84.3" y2="408.885" stroke="#2a2a2a" stroke-width="1.1"/>
<path d="M81.60,407.88 L87.00,407.88 L87.00,409.08 L85.00,410.19 L83.60,410.19 L81.60,409.08 Z" fill="#2a2a2a"/>
<rect x="88.60" y="408.18" width="8.60" height="4.22" fill="#cdcdcd"/>
<line x1="92.89999999999999" y1="408.18199999999996" x2="92.89999999999999" y2="407.8305" stroke="#2a2a2a" stroke-width="1.1"/>
<path d="M90.20,406.83 L95.60,406.83 L95.60,408.03 L93.60,409.13 L92.20,409.13 L90.20,408.03 Z" fill="#2a2a2a"/>
<rect x="97.20" y="377.95" width="8.60" height="34.45" fill="#9f9f9f"/>
<line x1="101.5" y1="377.953" x2="101.5" y2="371.626" stroke="#2a2a2a" stroke-width="1.1"/>
<path d="M98.80,370.63 L104.20,370.63 L104.20,371.83 L102.20,372.93 L100.80,372.93 L98.80,371.83 Z" fill="#2a2a2a"/>
<circle cx="101.50" cy="366.63" r="1.3" fill="#1e1e1e"/>
<rect x="105.80" y="359.68" width="8.60" height="52.72" fill="#353535"/>
<line x1="110.1" y1="359.675" x2="110.1" y2="355.1055" stroke="#2a2a2a" stroke-width="1.1"/>
<path d="M107.40,354.11 L112.80,354.11 L112.80,355.31 L110.80,356.41 L109.40,356.41 L107.40,355.31 Z" fill="#2a2a2a"/>
<circle cx="110.10" cy="350.11" r="1.3" fill="#1e1e1e"/>
<rect x="127.00" y="410.29" width="8.60" height="2.11" fill="#6a6a6a"/>
<line x1="131.3" y1="410.291" x2="131.3" y2="409.9395" stroke="#2a2a2a" stroke-width="1.1"/>
<path d="M128.60,408.94 L134.00,408.94 L134.00,410.14 L132.00,411.24 L130.60,411.24 L128.60,410.14 Z" fill="#2a2a2a"/>
<rect x="135.60" y="409.24" width="8.60" height="3.16" fill="#cdcdcd"/>
<line x1="139.9" y1="409.2365" x2="139.9" y2="408.885" stroke="#2a2a2a" stroke-width="1.1"/>
<path d="M137.20,407.88 L142.60,407.88 L142.60,409.08 L140.60,410.19 L139.20,410.19 L137.20,409.08 Z" fill="#2a2a2a"/>
<rect x="144.20" y="376.20" width="8.60" height="36.20" fill="#9f9f9f"/>
<line x1="148.5" y1="376.1955" x2="148.5" y2="373.38349999999997" stroke="#2a2a2a" stroke-width="1.1"/>
<path d="M145.80,372.38 L151.20,372.38 L151.20,373.58 L149.20,374.68 L147.80,374.68 L145.80,373.58 Z" fill="#2a2a2a"/>
<rect x="152.80" y="368.11" width="8.60" height="44.29" fill="#353535"/>
<line x1="157.10000000000002" y1="368.111" x2="157.10000000000002" y2="364.596" stroke="#2a2a2a" stroke-width="1.1"/>
<path d="M154.40,363.60 L159.80,363.60 L159.80,364.80 L157.80,365.90 L156.40,365.90 L154.40,364.80 Z" fill="#2a2a2a"/>
<rect x="174.00" y="410.99" width="8.60" height="1.41" fill="#6a6a6a"/>
<rect x="182.60" y="411.35" width="8.60" height="1.05" fill="#cdcdcd"/>
<line x1="186.9" y1="411.34549999999996" x2="186.9" y2="410.6425" stroke="#2a2a2a" stroke-width="1.1"/>
<path d="M184.20,409.64 L189.60,409.64 L189.60,410.84 L187.60,411.94 L186.20,411.94 L184.20,410.84 Z" fill="#2a2a2a"/>
<rect x="191.20" y="402.91" width="8.60" height="9.49" fill="#9f9f9f"/>
<line x1="195.5" y1="402.9095" x2="195.5" y2="401.5035" stroke="#2a2a2a" stroke-width="1.1"/>
<path d="M192.80,400.50 L198.20,400.50 L198.20,401.70 L196.20,402.80 L194.80,402.80 L192.80,401.70 Z" fill="#2a2a2a"/>
<polyline points="193.50,398.90 195.50,395.70 197.50,398.90" fill="none" stroke="#1e1e1e" stroke-width="0.95"/>
<rect x="199.80" y="384.28" width="8.60" height="28.12" fill="#353535"/>
<line x1="204.10000000000002" y1="384.28" x2="204.10000000000002" y2="381.46799999999996" stroke="#2a2a2a" stroke-width="1.1"/>
<path d="M201.40,380.47 L206.80,380.47 L206.80,381.67 L204.80,382.77 L203.40,382.77 L201.40,381.67 Z" fill="#2a2a2a"/>
<polyline points="202.10,378.87 204.10,375.67 206.10,378.87" fill="none" stroke="#1e1e1e" stroke-width="0.95"/>
<rect x="221.00" y="410.99" width="8.60" height="1.41" fill="#6a6a6a"/>
<rect x="229.60" y="411.70" width="8.60" height="0.70" fill="#cdcdcd"/>
<line x1="233.9" y1="411.697" x2="233.9" y2="409.9395" stroke="#2a2a2a" stroke-width="1.1"/>
<path d="M231.20,408.94 L236.60,408.94 L236.60,410.14 L234.60,411.24 L233.20,411.24 L231.20,410.14 Z" fill="#2a2a2a"/>
<rect x="238.20" y="401.85" width="8.60" height="10.54" fill="#9f9f9f"/>
<line x1="242.5" y1="401.85499999999996" x2="242.5" y2="398.34" stroke="#2a2a2a" stroke-width="1.1"/>
<path d="M239.80,397.34 L245.20,397.34 L245.20,398.54 L243.20,399.64 L241.80,399.64 L239.80,398.54 Z" fill="#2a2a2a"/>
<path d="M240.70,392.04 L244.30,395.64 M244.30,392.04 L240.70,395.64" stroke="#1e1e1e" stroke-width="0.95"/>
<rect x="246.80" y="388.15" width="8.60" height="24.25" fill="#353535"/>
<line x1="251.10000000000002" y1="388.1465" x2="251.10000000000002" y2="384.983" stroke="#2a2a2a" stroke-width="1.1"/>
<path d="M248.40,383.98 L253.80,383.98 L253.80,385.18 L251.80,386.28 L250.40,386.28 L248.40,385.18 Z" fill="#2a2a2a"/>
<path d="M249.30,378.68 L252.90,382.28 M252.90,378.68 L249.30,382.28" stroke="#1e1e1e" stroke-width="0.95"/>
<rect x="268.00" y="409.94" width="8.60" height="2.46" fill="#6a6a6a"/>
<line x1="272.3" y1="409.93949999999995" x2="272.3" y2="409.58799999999997" stroke="#2a2a2a" stroke-width="1.1"/>
<path d="M269.60,408.59 L275.00,408.59 L275.00,409.79 L273.00,410.89 L271.60,410.89 L269.60,409.79 Z" fill="#2a2a2a"/>
<rect x="276.60" y="408.53" width="8.60" height="3.87" fill="#cdcdcd"/>
<line x1="280.90000000000003" y1="408.5335" x2="280.90000000000003" y2="408.182" stroke="#2a2a2a" stroke-width="1.1"/>
<path d="M278.20,407.18 L283.60,407.18 L283.60,408.38 L281.60,409.48 L280.20,409.48 L278.20,408.38 Z" fill="#2a2a2a"/>
<rect x="285.20" y="394.82" width="8.60" height="17.57" fill="#9f9f9f"/>
<line x1="289.5" y1="394.825" x2="289.5" y2="394.4735" stroke="#2a2a2a" stroke-width="1.1"/>
<path d="M286.80,393.47 L292.20,393.47 L292.20,394.67 L290.20,395.77 L288.80,395.77 L286.80,394.67 Z" fill="#2a2a2a"/>
<rect x="293.80" y="392.36" width="8.60" height="20.04" fill="#353535"/>
<line x1="298.1" y1="392.3645" x2="298.1" y2="391.31" stroke="#2a2a2a" stroke-width="1.1"/>
<path d="M295.40,390.31 L300.80,390.31 L300.80,391.51 L298.80,392.61 L297.40,392.61 L295.40,391.51 Z" fill="#2a2a2a"/>
<rect x="315.00" y="411.35" width="8.60" height="1.05" fill="#6a6a6a"/>
<rect x="323.60" y="411.70" width="8.60" height="0.70" fill="#cdcdcd"/>
<rect x="332.20" y="405.02" width="8.60" height="7.38" fill="#9f9f9f"/>
<line x1="336.5" y1="405.01849999999996" x2="336.5" y2="404.667" stroke="#2a2a2a" stroke-width="1.1"/>
<path d="M333.80,403.67 L339.20,403.67 L339.20,404.87 L337.20,405.97 L335.80,405.97 L333.80,404.87 Z" fill="#2a2a2a"/>
<polyline points="334.70,398.87 336.50,402.07 338.30,398.87" fill="none" stroke="#1e1e1e" stroke-width="0.95"/>
<rect x="340.80" y="390.96" width="8.60" height="21.44" fill="#353535"/>
<line x1="345.1" y1="390.9585" x2="345.1" y2="390.607" stroke="#2a2a2a" stroke-width="1.1"/>
<path d="M342.40,389.61 L347.80,389.61 L347.80,390.81 L345.80,391.91 L344.40,391.91 L342.40,390.81 Z" fill="#2a2a2a"/>
<polyline points="343.30,384.81 345.10,388.01 346.90,384.81" fill="none" stroke="#1e1e1e" stroke-width="0.95"/>
<rect x="362.00" y="409.59" width="8.60" height="2.81" fill="#6a6a6a"/>
<line x1="366.3" y1="409.58799999999997" x2="366.3" y2="409.2365" stroke="#2a2a2a" stroke-width="1.1"/>
<path d="M363.60,408.24 L369.00,408.24 L369.00,409.44 L367.00,410.54 L365.60,410.54 L363.60,409.44 Z" fill="#2a2a2a"/>
<rect x="370.60" y="411.35" width="8.60" height="1.05" fill="#cdcdcd"/>
<line x1="374.90000000000003" y1="411.34549999999996" x2="374.90000000000003" y2="410.99399999999997" stroke="#2a2a2a" stroke-width="1.1"/>
<path d="M372.20,409.99 L377.60,409.99 L377.60,411.19 L375.60,412.29 L374.20,412.29 L372.20,411.19 Z" fill="#2a2a2a"/>
<rect x="379.20" y="391.66" width="8.60" height="20.74" fill="#9f9f9f"/>
<line x1="383.5" y1="391.6615" x2="383.5" y2="388.8495" stroke="#2a2a2a" stroke-width="1.1"/>
<path d="M380.80,387.85 L386.20,387.85 L386.20,389.05 L384.20,390.15 L382.80,390.15 L380.80,389.05 Z" fill="#2a2a2a"/>
<rect x="387.80" y="389.20" width="8.60" height="23.20" fill="#353535"/>
<line x1="392.1" y1="389.201" x2="392.1" y2="387.44350000000003" stroke="#2a2a2a" stroke-width="1.1"/>
<path d="M389.40,386.44 L394.80,386.44 L394.80,387.64 L392.80,388.74 L391.40,388.74 L389.40,387.64 Z" fill="#2a2a2a"/>
<rect x="409.00" y="412.05" width="8.60" height="0.35" fill="#6a6a6a"/>
<rect x="417.60" y="411.70" width="8.60" height="0.70" fill="#cdcdcd"/>
<rect x="426.20" y="405.02" width="8.60" height="7.38" fill="#9f9f9f"/>
<line x1="430.5" y1="405.01849999999996" x2="430.5" y2="404.667" stroke="#2a2a2a" stroke-width="1.1"/>
<path d="M427.80,403.67 L433.20,403.67 L433.20,404.87 L431.20,405.97 L429.80,405.97 L427.80,404.87 Z" fill="#2a2a2a"/>
<text x="430.5" y="402.12299999999993" font-size="8.8" text-anchor="middle" font-weight="normal" fill="#1e1e1e" stroke="#1e1e1e" stroke-width="0.24" textLength="4.4" lengthAdjust="spacingAndGlyphs">&amp;</text>
<rect x="434.80" y="378.66" width="8.60" height="33.74" fill="#353535"/>
<line x1="439.1" y1="378.656" x2="439.1" y2="375.4925" stroke="#2a2a2a" stroke-width="1.1"/>
<path d="M436.40,374.49 L441.80,374.49 L441.80,375.69 L439.80,376.79 L438.40,376.79 L436.40,375.69 Z" fill="#2a2a2a"/>
<text x="439.1" y="372.94849999999997" font-size="8.8" text-anchor="middle" font-weight="normal" fill="#1e1e1e" stroke="#1e1e1e" stroke-width="0.24" textLength="4.4" lengthAdjust="spacingAndGlyphs">&amp;</text>
<rect x="456.00" y="410.99" width="8.60" height="1.41" fill="#6a6a6a"/>
<line x1="460.3" y1="410.99399999999997" x2="460.3" y2="410.6425" stroke="#2a2a2a" stroke-width="1.1"/>
<path d="M457.60,409.64 L463.00,409.64 L463.00,410.84 L461.00,411.94 L459.60,411.94 L457.60,410.84 Z" fill="#2a2a2a"/>
<rect x="464.60" y="411.35" width="8.60" height="1.05" fill="#cdcdcd"/>
<line x1="468.90000000000003" y1="411.34549999999996" x2="468.90000000000003" y2="410.99399999999997" stroke="#2a2a2a" stroke-width="1.1"/>
<path d="M466.20,409.99 L471.60,409.99 L471.60,411.19 L469.60,412.29 L468.20,412.29 L466.20,411.19 Z" fill="#2a2a2a"/>
<rect x="473.20" y="386.39" width="8.60" height="26.01" fill="#9f9f9f"/>
<line x1="477.5" y1="386.389" x2="477.5" y2="386.0375" stroke="#2a2a2a" stroke-width="1.1"/>
<path d="M474.80,385.04 L480.20,385.04 L480.20,386.24 L478.20,387.34 L476.80,387.34 L474.80,386.24 Z" fill="#2a2a2a"/>
<rect x="481.80" y="378.66" width="8.60" height="33.74" fill="#353535"/>
<line x1="486.1" y1="378.656" x2="486.1" y2="375.141" stroke="#2a2a2a" stroke-width="1.1"/>
<path d="M483.40,374.14 L488.80,374.14 L488.80,375.34 L486.80,376.44 L485.40,376.44 L483.40,375.34 Z" fill="#2a2a2a"/>
<line x1="124.8" y1="23.4" x2="124.8" y2="414.5" stroke="#333" stroke-width="1.3"/>
<line x1="264.4" y1="23.4" x2="264.4" y2="414.5" stroke="#333" stroke-width="1.3"/>
<line x1="450.9" y1="23.4" x2="450.9" y2="414.5" stroke="#333" stroke-width="1.3"/>
<text x="194.5" y="31.6" font-size="10.2" text-anchor="middle" font-weight="normal" fill="#222" stroke="#222" stroke-width="0.24" textLength="40.8" lengthAdjust="spacingAndGlyphs">Structural</text>
<text x="357.7" y="31.6" font-size="10.2" text-anchor="middle" font-weight="normal" fill="#222" stroke="#222" stroke-width="0.24" textLength="89.3" lengthAdjust="spacingAndGlyphs">Structural-Functional</text>
<text x="484.0" y="31.6" font-size="10.2" text-anchor="middle" font-weight="normal" fill="#222" stroke="#222" stroke-width="0.24" textLength="44.0" lengthAdjust="spacingAndGlyphs">Functional</text>
<text x="97.2" y="46.5" font-size="7.5" text-anchor="middle" font-weight="normal" fill="#222" stroke="#222" stroke-width="0.24">WT</text>
<text x="144.2" y="46.5" font-size="7.5" text-anchor="middle" font-weight="normal" fill="#222" stroke="#222" stroke-width="0.24">V463del</text>
<text x="191.2" y="46.5" font-size="7.5" text-anchor="middle" font-weight="normal" fill="#222" stroke="#222" stroke-width="0.24">T622I</text>
<text x="238.2" y="46.5" font-size="7.5" text-anchor="middle" font-weight="normal" fill="#222" stroke="#222" stroke-width="0.24">Y657S</text>
<text x="285.2" y="46.5" font-size="7.5" text-anchor="middle" font-weight="normal" fill="#222" stroke="#222" stroke-width="0.24">R423Q</text>
<text x="332.2" y="46.5" font-size="7.5" text-anchor="middle" font-weight="normal" fill="#222" stroke="#222" stroke-width="0.24">S611N</text>
<text x="379.2" y="46.5" font-size="7.5" text-anchor="middle" font-weight="normal" fill="#222" stroke="#222" stroke-width="0.24">V637M</text>
<text x="426.2" y="46.5" font-size="7.5" text-anchor="middle" font-weight="normal" fill="#222" stroke="#222" stroke-width="0.24">N647D</text>
<text x="473.2" y="46.5" font-size="7.5" text-anchor="middle" font-weight="normal" fill="#222" stroke="#222" stroke-width="0.24">R382W</text>
<text x="34.8" y="422.7" font-size="7.6" text-anchor="start" font-weight="normal" fill="#222" stroke="#222" stroke-width="0.24">GGA</text>
<text x="35.2" y="433.6" font-size="7.6" text-anchor="start" font-weight="normal" fill="#222" stroke="#222" stroke-width="0.24">IL - 21</text>
<text x="84.3" y="422.8" font-size="7.5" text-anchor="middle" font-weight="normal" fill="#222" stroke="#222" stroke-width="0.24">−</text>
<text x="84.3" y="434.2" font-size="7.5" text-anchor="middle" font-weight="normal" fill="#222" stroke="#222" stroke-width="0.24">−</text>
<text x="92.89999999999999" y="422.8" font-size="7.5" text-anchor="middle" font-weight="normal" fill="#222" stroke="#222" stroke-width="0.24">+</text>
<text x="92.89999999999999" y="434.2" font-size="7.5" text-anchor="middle" font-weight="normal" fill="#222" stroke="#222" stroke-width="0.24">−</text>
<text x="101.5" y="422.8" font-size="7.5" text-anchor="middle" font-weight="normal" fill="#222" stroke="#222" stroke-width="0.24">−</text>
<text x="101.5" y="434.2" font-size="7.5" text-anchor="middle" font-weight="normal" fill="#222" stroke="#222" stroke-width="0.24">+</text>
<text x="110.1" y="422.8" font-size="7.5" text-anchor="middle" font-weight="normal" fill="#222" stroke="#222" stroke-width="0.24">+</text>
<text x="110.1" y="434.2" font-size="7.5" text-anchor="middle" font-weight="normal" fill="#222" stroke="#222" stroke-width="0.24">+</text>
<text x="131.3" y="422.8" font-size="7.5" text-anchor="middle" font-weight="normal" fill="#222" stroke="#222" stroke-width="0.24">−</text>
<text x="131.3" y="434.2" font-size="7.5" text-anchor="middle" font-weight="normal" fill="#222" stroke="#222" stroke-width="0.24">−</text>
<text x="139.9" y="422.8" font-size="7.5" text-anchor="middle" font-weight="normal" fill="#222" stroke="#222" stroke-width="0.24">+</text>
<text x="139.9" y="434.2" font-size="7.5" text-anchor="middle" font-weight="normal" fill="#222" stroke="#222" stroke-width="0.24">−</text>
<text x="148.5" y="422.8" font-size="7.5" text-anchor="middle" font-weight="normal" fill="#222" stroke="#222" stroke-width="0.24">−</text>
<text x="148.5" y="434.2" font-size="7.5" text-anchor="middle" font-weight="normal" fill="#222" stroke="#222" stroke-width="0.24">+</text>
<text x="157.10000000000002" y="422.8" font-size="7.5" text-anchor="middle" font-weight="normal" fill="#222" stroke="#222" stroke-width="0.24">+</text>
<text x="157.10000000000002" y="434.2" font-size="7.5" text-anchor="middle" font-weight="normal" fill="#222" stroke="#222" stroke-width="0.24">+</text>
<text x="178.3" y="422.8" font-size="7.5" text-anchor="middle" font-weight="normal" fill="#222" stroke="#222" stroke-width="0.24">−</text>
<text x="178.3" y="434.2" font-size="7.5" text-anchor="middle" font-weight="normal" fill="#222" stroke="#222" stroke-width="0.24">−</text>
<text x="186.9" y="422.8" font-size="7.5" text-anchor="middle" font-weight="normal" fill="#222" stroke="#222" stroke-width="0.24">+</text>
<text x="186.9" y="434.2" font-size="7.5" text-anchor="middle" font-weight="normal" fill="#222" stroke="#222" stroke-width="0.24">−</text>
<text x="195.5" y="422.8" font-size="7.5" text-anchor="middle" font-weight="normal" fill="#222" stroke="#222" stroke-width="0.24">−</text>
<text x="195.5" y="434.2" font-size="7.5" text-anchor="middle" font-weight="normal" fill="#222" stroke="#222" stroke-width="0.24">+</text>
<text x="204.10000000000002" y="422.8" font-size="7.5" text-anchor="middle" font-weight="normal" fill="#222" stroke="#222" stroke-width="0.24">+</text>
<text x="204.10000000000002" y="434.2" font-size="7.5" text-anchor="middle" font-weight="normal" fill="#222" stroke="#222" stroke-width="0.24">+</text>
<text x="225.3" y="422.8" font-size="7.5" text-anchor="middle" font-weight="normal" fill="#222" stroke="#222" stroke-width="0.24">−</text>
<text x="225.3" y="434.2" font-size="7.5" text-anchor="middle" font-weight="normal" fill="#222" stroke="#222" stroke-width="0.24">−</text>
<text x="233.9" y="422.8" font-size="7.5" text-anchor="middle" font-weight="normal" fill="#222" stroke="#222" stroke-width="0.24">+</text>
<text x="233.9" y="434.2" font-size="7.5" text-anchor="middle" font-weight="normal" fill="#222" stroke="#222" stroke-width="0.24">−</text>
<text x="242.5" y="422.8" font-size="7.5" text-anchor="middle" font-weight="normal" fill="#222" stroke="#222" stroke-width="0.24">−</text>
<text x="242.5" y="434.2" font-size="7.5" text-anchor="middle" font-weight="normal" fill="#222" stroke="#222" stroke-width="0.24">+</text>
<text x="251.10000000000002" y="422.8" font-size="7.5" text-anchor="middle" font-weight="normal" fill="#222" stroke="#222" stroke-width="0.24">+</text>
<text x="251.10000000000002" y="434.2" font-size="7.5" text-anchor="middle" font-weight="normal" fill="#222" stroke="#222" stroke-width="0.24">+</text>
<text x="272.3" y="422.8" font-size="7.5" text-anchor="middle" font-weight="normal" fill="#222" stroke="#222" stroke-width="0.24">−</text>
<text x="272.3" y="434.2" font-size="7.5" text-anchor="middle" font-weight="normal" fill="#222" stroke="#222" stroke-width="0.24">−</text>
<text x="280.90000000000003" y="422.8" font-size="7.5" text-anchor="middle" font-weight="normal" fill="#222" stroke="#222" stroke-width="0.24">+</text>
<text x="280.90000000000003" y="434.2" font-size="7.5" text-anchor="middle" font-weight="normal" fill="#222" stroke="#222" stroke-width="0.24">−</text>
<text x="289.5" y="422.8" font-size="7.5" text-anchor="middle" font-weight="normal" fill="#222" stroke="#222" stroke-width="0.24">−</text>
<text x="289.5" y="434.2" font-size="7.5" text-anchor="middle" font-weight="normal" fill="#222" stroke="#222" stroke-width="0.24">+</text>
<text x="298.1" y="422.8" font-size="7.5" text-anchor="middle" font-weight="normal" fill="#222" stroke="#222" stroke-width="0.24">+</text>
<text x="298.1" y="434.2" font-size="7.5" text-anchor="middle" font-weight="normal" fill="#222" stroke="#222" stroke-width="0.24">+</text>
<text x="319.3" y="422.8" font-size="7.5" text-anchor="middle" font-weight="normal" fill="#222" stroke="#222" stroke-width="0.24">−</text>
<text x="319.3" y="434.2" font-size="7.5" text-anchor="middle" font-weight="normal" fill="#222" stroke="#222" stroke-width="0.24">−</text>
<text x="327.90000000000003" y="422.8" font-size="7.5" text-anchor="middle" font-weight="normal" fill="#222" stroke="#222" stroke-width="0.24">+</text>
<text x="327.90000000000003" y="434.2" font-size="7.5" text-anchor="middle" font-weight="normal" fill="#222" stroke="#222" stroke-width="0.24">−</text>
<text x="336.5" y="422.8" font-size="7.5" text-anchor="middle" font-weight="normal" fill="#222" stroke="#222" stroke-width="0.24">−</text>
<text x="336.5" y="434.2" font-size="7.5" text-anchor="middle" font-weight="normal" fill="#222" stroke="#222" stroke-width="0.24">+</text>
<text x="345.1" y="422.8" font-size="7.5" text-anchor="middle" font-weight="normal" fill="#222" stroke="#222" stroke-width="0.24">+</text>
<text x="345.1" y="434.2" font-size="7.5" text-anchor="middle" font-weight="normal" fill="#222" stroke="#222" stroke-width="0.24">+</text>
<text x="366.3" y="422.8" font-size="7.5" text-anchor="middle" font-weight="normal" fill="#222" stroke="#222" stroke-width="0.24">−</text>
<text x="366.3" y="434.2" font-size="7.5" text-anchor="middle" font-weight="normal" fill="#222" stroke="#222" stroke-width="0.24">−</text>
<text x="374.90000000000003" y="422.8" font-size="7.5" text-anchor="middle" font-weight="normal" fill="#222" stroke="#222" stroke-width="0.24">+</text>
<text x="374.90000000000003" y="434.2" font-size="7.5" text-anchor="middle" font-weight="normal" fill="#222" stroke="#222" stroke-width="0.24">−</text>
<text x="383.5" y="422.8" font-size="7.5" text-anchor="middle" font-weight="normal" fill="#222" stroke="#222" stroke-width="0.24">−</text>
<text x="383.5" y="434.2" font-size="7.5" text-anchor="middle" font-weight="normal" fill="#222" stroke="#222" stroke-width="0.24">+</text>
<text x="392.1" y="422.8" font-size="7.5" text-anchor="middle" font-weight="normal" fill="#222" stroke="#222" stroke-width="0.24">+</text>
<text x="392.1" y="434.2" font-size="7.5" text-anchor="middle" font-weight="normal" fill="#222" stroke="#222" stroke-width="0.24">+</text>
<text x="413.3" y="422.8" font-size="7.5" text-anchor="middle" font-weight="normal" fill="#222" stroke="#222" stroke-width="0.24">−</text>
<text x="413.3" y="434.2" font-size="7.5" text-anchor="middle" font-weight="normal" fill="#222" stroke="#222" stroke-width="0.24">−</text>
<text x="421.90000000000003" y="422.8" font-size="7.5" text-anchor="middle" font-weight="normal" fill="#222" stroke="#222" stroke-width="0.24">+</text>
<text x="421.90000000000003" y="434.2" font-size="7.5" text-anchor="middle" font-weight="normal" fill="#222" stroke="#222" stroke-width="0.24">−</text>
<text x="430.5" y="422.8" font-size="7.5" text-anchor="middle" font-weight="normal" fill="#222" stroke="#222" stroke-width="0.24">−</text>
<text x="430.5" y="434.2" font-size="7.5" text-anchor="middle" font-weight="normal" fill="#222" stroke="#222" stroke-width="0.24">+</text>
<text x="439.1" y="422.8" font-size="7.5" text-anchor="middle" font-weight="normal" fill="#222" stroke="#222" stroke-width="0.24">+</text>
<text x="439.1" y="434.2" font-size="7.5" text-anchor="middle" font-weight="normal" fill="#222" stroke="#222" stroke-width="0.24">+</text>
<text x="460.3" y="422.8" font-size="7.5" text-anchor="middle" font-weight="normal" fill="#222" stroke="#222" stroke-width="0.24">−</text>
<text x="460.3" y="434.2" font-size="7.5" text-anchor="middle" font-weight="normal" fill="#222" stroke="#222" stroke-width="0.24">−</text>
<text x="468.90000000000003" y="422.8" font-size="7.5" text-anchor="middle" font-weight="normal" fill="#222" stroke="#222" stroke-width="0.24">+</text>
<text x="468.90000000000003" y="434.2" font-size="7.5" text-anchor="middle" font-weight="normal" fill="#222" stroke="#222" stroke-width="0.24">−</text>
<text x="477.5" y="422.8" font-size="7.5" text-anchor="middle" font-weight="normal" fill="#222" stroke="#222" stroke-width="0.24">−</text>
<text x="477.5" y="434.2" font-size="7.5" text-anchor="middle" font-weight="normal" fill="#222" stroke="#222" stroke-width="0.24">+</text>
<text x="486.1" y="422.8" font-size="7.5" text-anchor="middle" font-weight="normal" fill="#222" stroke="#222" stroke-width="0.24">+</text>
<text x="486.1" y="434.2" font-size="7.5" text-anchor="middle" font-weight="normal" fill="#222" stroke="#222" stroke-width="0.24">+</text>
<text x="34.9" y="472.9" font-size="11.5" text-anchor="start" font-weight="bold" fill="#111" stroke="#111" stroke-width="0.15">E</text>
<line x1="66.8" y1="478.6" x2="66.8" y2="584.6" stroke="#111" stroke-width="1.3"/>
<line x1="63.3" y1="584.6" x2="66.8" y2="584.6" stroke="#111" stroke-width="1.1"/>
<text x="60.2" y="587.45" font-size="7.9" text-anchor="end" font-weight="normal" fill="#222" stroke="#222" stroke-width="0.24" textLength="3.95" lengthAdjust="spacingAndGlyphs">0</text>
<line x1="63.3" y1="571.6875" x2="66.8" y2="571.6875" stroke="#111" stroke-width="1.1"/>
<text x="60.2" y="574.5375" font-size="7.9" text-anchor="end" font-weight="normal" fill="#222" stroke="#222" stroke-width="0.24" textLength="7.9" lengthAdjust="spacingAndGlyphs">20</text>
<line x1="63.3" y1="558.775" x2="66.8" y2="558.775" stroke="#111" stroke-width="1.1"/>
<text x="60.2" y="561.625" font-size="7.9" text-anchor="end" font-weight="normal" fill="#222" stroke="#222" stroke-width="0.24" textLength="7.9" lengthAdjust="spacingAndGlyphs">40</text>
<line x1="63.3" y1="545.8625000000001" x2="66.8" y2="545.8625000000001" stroke="#111" stroke-width="1.1"/>
<text x="60.2" y="548.7125000000001" font-size="7.9" text-anchor="end" font-weight="normal" fill="#222" stroke="#222" stroke-width="0.24" textLength="7.9" lengthAdjust="spacingAndGlyphs">60</text>
<line x1="63.3" y1="532.95" x2="66.8" y2="532.95" stroke="#111" stroke-width="1.1"/>
<text x="60.2" y="535.8000000000001" font-size="7.9" text-anchor="end" font-weight="normal" fill="#222" stroke="#222" stroke-width="0.24" textLength="7.9" lengthAdjust="spacingAndGlyphs">80</text>
<line x1="63.3" y1="520.0375" x2="66.8" y2="520.0375" stroke="#111" stroke-width="1.1"/>
<text x="60.2" y="522.8875" font-size="7.9" text-anchor="end" font-weight="normal" fill="#222" stroke="#222" stroke-width="0.24" textLength="11.850000000000001" lengthAdjust="spacingAndGlyphs">100</text>
<line x1="63.3" y1="507.125" x2="66.8" y2="507.125" stroke="#111" stroke-width="1.1"/>
<text x="60.2" y="509.975" font-size="7.9" text-anchor="end" font-weight="normal" fill="#222" stroke="#222" stroke-width="0.24" textLength="11.850000000000001" lengthAdjust="spacingAndGlyphs">120</text>
<line x1="63.3" y1="494.2125" x2="66.8" y2="494.2125" stroke="#111" stroke-width="1.1"/>
<text x="60.2" y="497.0625" font-size="7.9" text-anchor="end" font-weight="normal" fill="#222" stroke="#222" stroke-width="0.24" textLength="11.850000000000001" lengthAdjust="spacingAndGlyphs">140</text>
<line x1="63.3" y1="481.3" x2="66.8" y2="481.3" stroke="#111" stroke-width="1.1"/>
<text x="60.2" y="484.15000000000003" font-size="7.9" text-anchor="end" font-weight="normal" fill="#222" stroke="#222" stroke-width="0.24" textLength="11.850000000000001" lengthAdjust="spacingAndGlyphs">160</text>
<line x1="66.8" y1="584.6" x2="167.8" y2="584.6" stroke="#111" stroke-width="1.3"/>
<line x1="66.8" y1="584.6" x2="66.8" y2="587.9" stroke="#111" stroke-width="1.1"/>
<text x="66.8" y="598.3" font-size="8.4" text-anchor="middle" font-weight="normal" fill="#222" stroke="#222" stroke-width="0.24" textLength="4.2" lengthAdjust="spacingAndGlyphs">0</text>
<line x1="100.3" y1="584.6" x2="100.3" y2="587.9" stroke="#111" stroke-width="1.1"/>
<text x="100.3" y="598.3" font-size="8.4" text-anchor="middle" font-weight="normal" fill="#222" stroke="#222" stroke-width="0.24" textLength="8.4" lengthAdjust="spacingAndGlyphs">10</text>
<line x1="133.8" y1="584.6" x2="133.8" y2="587.9" stroke="#111" stroke-width="1.1"/>
<text x="133.8" y="598.3" font-size="8.4" text-anchor="middle" font-weight="normal" fill="#222" stroke="#222" stroke-width="0.24" textLength="8.4" lengthAdjust="spacingAndGlyphs">20</text>
<line x1="167.3" y1="584.6" x2="167.3" y2="587.9" stroke="#111" stroke-width="1.1"/>
<text x="167.3" y="598.3" font-size="8.4" text-anchor="middle" font-weight="normal" fill="#222" stroke="#222" stroke-width="0.24" textLength="8.4" lengthAdjust="spacingAndGlyphs">30</text>
<text x="119.0" y="611.4" font-size="9.9" text-anchor="middle" font-weight="normal" fill="#222" stroke="#222" stroke-width="0.24" textLength="35.0" lengthAdjust="spacingAndGlyphs">Time (hr)</text>
<text x="41.9" y="531.8" font-size="10.2" text-anchor="middle" font-weight="normal" fill="#222" stroke="#222" stroke-width="0.24" transform="rotate(-90 41.9 531.8)" textLength="68.0" lengthAdjust="spacingAndGlyphs">% WT total STAT3</text>
<polyline points="66.60,495.60 70.70,495.60 73.50,498.60 75.80,502.30 80.50,503.50 93.10,508.10 107.00,512.70 134.20,522.50 147.10,529.50" fill="none" stroke="#111" stroke-width="1.4" stroke-linejoin="round"/>
<polyline points="66.60,520.80 69.50,525.40 73.00,528.60 77.00,528.30 79.90,530.90 93.10,534.00 107.00,538.30 133.60,547.90 147.10,555.40" fill="none" stroke="#111" stroke-width="1.5" stroke-linejoin="round"/>
<polyline points="66.60,552.80 68.90,554.20 73.50,556.00 79.90,557.50 93.70,559.80 107.60,561.10 133.60,568.60 147.10,570.60" fill="none" stroke="#5a5a5a" stroke-width="1.2" stroke-linejoin="round" stroke-dasharray="2.4,1.4"/>
<polyline points="68.30,560.00 69.50,562.90 73.00,564.60 77.00,566.30 80.50,569.50 93.70,572.30 107.00,571.80 133.60,576.70 147.10,578.40" fill="none" stroke="#5a5a5a" stroke-width="1.2" stroke-linejoin="round" stroke-dasharray="3.0,1.2"/>
<rect x="69.45" y="494.35" width="2.5" height="2.5" fill="#111"/>
<rect x="72.25" y="497.35" width="2.5" height="2.5" fill="#111"/>
<rect x="74.55" y="501.05" width="2.5" height="2.5" fill="#111"/>
<rect x="79.25" y="502.25" width="2.5" height="2.5" fill="#111"/>
<rect x="91.85" y="506.85" width="2.5" height="2.5" fill="#111"/>
<rect x="105.75" y="511.45" width="2.5" height="2.5" fill="#111"/>
<rect x="132.95" y="521.25" width="2.5" height="2.5" fill="#111"/>
<rect x="145.85" y="528.25" width="2.5" height="2.5" fill="#111"/>
<rect x="68.25" y="524.15" width="2.5" height="2.5" fill="#111"/>
<rect x="71.75" y="527.35" width="2.5" height="2.5" fill="#111"/>
<rect x="75.75" y="527.05" width="2.5" height="2.5" fill="#111"/>
<rect x="78.65" y="529.65" width="2.5" height="2.5" fill="#111"/>
<rect x="91.85" y="532.75" width="2.5" height="2.5" fill="#111"/>
<rect x="105.75" y="537.05" width="2.5" height="2.5" fill="#111"/>
<rect x="132.35" y="546.65" width="2.5" height="2.5" fill="#111"/>
<rect x="145.85" y="554.15" width="2.5" height="2.5" fill="#111"/>
<rect x="67.80" y="553.10" width="2.2" height="2.2" fill="#444"/>
<rect x="72.40" y="554.90" width="2.2" height="2.2" fill="#444"/>
<rect x="78.80" y="556.40" width="2.2" height="2.2" fill="#444"/>
<rect x="92.60" y="558.70" width="2.2" height="2.2" fill="#444"/>
<rect x="106.50" y="560.00" width="2.2" height="2.2" fill="#444"/>
<rect x="132.50" y="567.50" width="2.2" height="2.2" fill="#444"/>
<rect x="146.00" y="569.50" width="2.2" height="2.2" fill="#444"/>
<rect x="68.40" y="561.80" width="2.2" height="2.2" fill="#444"/>
<rect x="71.90" y="563.50" width="2.2" height="2.2" fill="#444"/>
<rect x="75.90" y="565.20" width="2.2" height="2.2" fill="#444"/>
<rect x="79.40" y="568.40" width="2.2" height="2.2" fill="#444"/>
<rect x="92.60" y="571.20" width="2.2" height="2.2" fill="#444"/>
<rect x="105.90" y="570.70" width="2.2" height="2.2" fill="#444"/>
<rect x="132.50" y="575.60" width="2.2" height="2.2" fill="#444"/>
<rect x="146.00" y="577.30" width="2.2" height="2.2" fill="#444"/>
<circle cx="66.8" cy="552.8" r="1.6" fill="none" stroke="#333" stroke-width="0.9"/>
<line x1="110" y1="477.7" x2="130" y2="477.7" stroke="#111" stroke-width="1.6"/>
<line x1="110" y1="486.6" x2="128.5" y2="486.6" stroke="#1a1a1a" stroke-width="1.5" stroke-dasharray="1.8,0.45"/>
<line x1="110" y1="495.3" x2="130" y2="495.3" stroke="#555" stroke-width="1.3" stroke-dasharray="2.4,1.3"/>
<line x1="110" y1="504.1" x2="130" y2="504.1" stroke="#555" stroke-width="1.3" stroke-dasharray="3.6,0.9"/>
<text x="132.5" y="480.3" font-size="8.0" text-anchor="start" font-weight="normal" fill="#222" stroke="#222" stroke-width="0.24">WT</text>
<text x="132.5" y="489.2" font-size="8.0" text-anchor="start" font-weight="normal" fill="#222" stroke="#222" stroke-width="0.24">WT + GGA</text>
<text x="132.5" y="498.5" font-size="8.0" text-anchor="start" font-weight="normal" fill="#222" stroke="#222" stroke-width="0.24">Y657S</text>
<text x="132.5" y="507.5" font-size="8.0" text-anchor="start" font-weight="normal" fill="#222" stroke="#222" stroke-width="0.24">Y657S + GGA</text>
<text x="206.2" y="473.1" font-size="11.5" text-anchor="start" font-weight="bold" fill="#111" stroke="#111" stroke-width="0.15">F</text>
<line x1="232.7" y1="478.5" x2="232.7" y2="582.5" stroke="#111" stroke-width="1.3"/>
<line x1="229.39999999999998" y1="582.5" x2="232.7" y2="582.5" stroke="#111" stroke-width="1.1"/>
<text x="226.3" y="585.4" font-size="8.0" text-anchor="end" font-weight="normal" fill="#222" stroke="#222" stroke-width="0.24">0</text>
<line x1="229.39999999999998" y1="565.6666666666666" x2="232.7" y2="565.6666666666666" stroke="#111" stroke-width="1.1"/>
<text x="226.3" y="568.5666666666666" font-size="8.0" text-anchor="end" font-weight="normal" fill="#222" stroke="#222" stroke-width="0.24">5</text>
<line x1="229.39999999999998" y1="548.8333333333334" x2="232.7" y2="548.8333333333334" stroke="#111" stroke-width="1.1"/>
<text x="226.3" y="551.7333333333333" font-size="8.0" text-anchor="end" font-weight="normal" fill="#222" stroke="#222" stroke-width="0.24">10</text>
<line x1="229.39999999999998" y1="532.0" x2="232.7" y2="532.0" stroke="#111" stroke-width="1.1"/>
<text x="226.3" y="534.9" font-size="8.0" text-anchor="end" font-weight="normal" fill="#222" stroke="#222" stroke-width="0.24">15</text>
<line x1="229.39999999999998" y1="515.1666666666666" x2="232.7" y2="515.1666666666666" stroke="#111" stroke-width="1.1"/>
<text x="226.3" y="518.0666666666666" font-size="8.0" text-anchor="end" font-weight="normal" fill="#222" stroke="#222" stroke-width="0.24">20</text>
<line x1="229.39999999999998" y1="498.3333333333333" x2="232.7" y2="498.3333333333333" stroke="#111" stroke-width="1.1"/>
<text x="226.3" y="501.2333333333333" font-size="8.0" text-anchor="end" font-weight="normal" fill="#222" stroke="#222" stroke-width="0.24">25</text>
<line x1="229.39999999999998" y1="481.5" x2="232.7" y2="481.5" stroke="#111" stroke-width="1.1"/>
<text x="226.3" y="484.4" font-size="8.0" text-anchor="end" font-weight="normal" fill="#222" stroke="#222" stroke-width="0.24">30</text>
<line x1="232.7" y1="582.5" x2="324.7" y2="582.5" stroke="#111" stroke-width="1.3"/>
<line x1="232.7" y1="582.5" x2="232.7" y2="585.5" stroke="#111" stroke-width="1.1"/>
<line x1="264.4" y1="582.5" x2="264.4" y2="585.5" stroke="#111" stroke-width="1.1"/>
<line x1="293.7" y1="582.5" x2="293.7" y2="585.5" stroke="#111" stroke-width="1.1"/>
<line x1="324.7" y1="582.5" x2="324.7" y2="585.5" stroke="#111" stroke-width="1.1"/>
<rect x="244.20" y="498.33" width="11.60" height="84.17" fill="#767676"/>
<line x1="250.0" y1="498.3333333333333" x2="250.0" y2="491.59999999999997" stroke="#2a2a2a" stroke-width="1.1"/>
<line x1="247.4" y1="491.59999999999997" x2="252.6" y2="491.59999999999997" stroke="#2a2a2a" stroke-width="1.4"/>
<rect x="272.90" y="563.98" width="11.60" height="18.52" fill="#767676"/>
<line x1="278.7" y1="563.9833333333333" x2="278.7" y2="549.8433333333334" stroke="#2a2a2a" stroke-width="1.1"/>
<line x1="276.09999999999997" y1="549.8433333333334" x2="281.3" y2="549.8433333333334" stroke="#2a2a2a" stroke-width="1.4"/>
<rect x="301.90" y="500.02" width="11.60" height="82.48" fill="#767676"/>
<line x1="307.7" y1="500.01666666666665" x2="307.7" y2="494.96666666666664" stroke="#2a2a2a" stroke-width="1.1"/>
<line x1="305.09999999999997" y1="494.96666666666664" x2="310.3" y2="494.96666666666664" stroke="#2a2a2a" stroke-width="1.4"/>
<circle cx="250.0" cy="486.2" r="1.15" fill="#222"/>
<circle cx="273.0" cy="541.2" r="1.15" fill="#222"/>
<rect x="277.5" y="542.6" width="0.9" height="1.8" fill="#333"/>
<circle cx="281.8" cy="541.2" r="1.15" fill="#222"/>
<circle cx="285.8" cy="541.2" r="1.15" fill="#222"/>
<circle cx="305.8" cy="489.3" r="1.15" fill="#222"/>
<circle cx="309.8" cy="489.3" r="1.15" fill="#222"/>
<text x="249.8" y="596.0" font-size="8.0" text-anchor="middle" font-weight="normal" fill="#222" stroke="#222" stroke-width="0.24">WT</text>
<text x="278.2" y="596.0" font-size="8.0" text-anchor="middle" font-weight="normal" fill="#222" stroke="#222" stroke-width="0.24">Y657S</text>
<text x="310.7" y="596.0" font-size="8.0" text-anchor="middle" font-weight="normal" fill="#222" stroke="#222" stroke-width="0.24">Y657S +</text>
<text x="310.7" y="606.6" font-size="8.0" text-anchor="middle" font-weight="normal" fill="#222" stroke="#222" stroke-width="0.24">GGA</text>
<text x="212.4" y="530.6" font-size="8.9" text-anchor="middle" font-weight="normal" fill="#222" stroke="#222" stroke-width="0.24" transform="rotate(-90 212.4 530.6)" textLength="59.5" lengthAdjust="spacingAndGlyphs">Half-life (hours)</text>
<text x="347.7" y="473.1" font-size="11.5" text-anchor="start" font-weight="bold" fill="#111" stroke="#111" stroke-width="0.15">G</text>
<line x1="390.0" y1="483.1" x2="390.0" y2="585.7" stroke="#111" stroke-width="1.3"/>
<line x1="386.7" y1="585.7" x2="390.0" y2="585.7" stroke="#111" stroke-width="1.1"/>
<text x="384.5" y="588.7" font-size="8.3" text-anchor="end" font-weight="normal" fill="#222" stroke="#222" stroke-width="0.24">0</text>
<line x1="386.7" y1="565.64" x2="390.0" y2="565.64" stroke="#111" stroke-width="1.1"/>
<text x="384.5" y="568.64" font-size="8.3" text-anchor="end" font-weight="normal" fill="#222" stroke="#222" stroke-width="0.24">0.5</text>
<line x1="386.7" y1="545.58" x2="390.0" y2="545.58" stroke="#111" stroke-width="1.1"/>
<text x="384.5" y="548.58" font-size="8.3" text-anchor="end" font-weight="normal" fill="#222" stroke="#222" stroke-width="0.24">1</text>
<line x1="386.7" y1="525.52" x2="390.0" y2="525.52" stroke="#111" stroke-width="1.1"/>
<text x="384.5" y="528.52" font-size="8.3" text-anchor="end" font-weight="normal" fill="#222" stroke="#222" stroke-width="0.24">1.5</text>
<line x1="386.7" y1="505.46" x2="390.0" y2="505.46" stroke="#111" stroke-width="1.1"/>
<text x="384.5" y="508.46" font-size="8.3" text-anchor="end" font-weight="normal" fill="#222" stroke="#222" stroke-width="0.24">2</text>
<line x1="386.7" y1="485.4" x2="390.0" y2="485.4" stroke="#111" stroke-width="1.1"/>
<text x="384.5" y="488.4" font-size="8.3" text-anchor="end" font-weight="normal" fill="#222" stroke="#222" stroke-width="0.24">2.5</text>
<line x1="390.0" y1="585.7" x2="475.6" y2="585.7" stroke="#111" stroke-width="1.3"/>
<line x1="390.0" y1="585.7" x2="390.0" y2="588.7" stroke="#111" stroke-width="1.1"/>
<line x1="431.5" y1="585.7" x2="431.5" y2="588.7" stroke="#111" stroke-width="1.1"/>
<line x1="473.9" y1="585.7" x2="473.9" y2="588.7" stroke="#111" stroke-width="1.1"/>
<rect x="399.10" y="545.58" width="11.80" height="40.12" fill="#b6b6b6"/>
<line x1="405.0" y1="545.58" x2="405.0" y2="543.9752000000001" stroke="#2a2a2a" stroke-width="1.1"/>
<path d="M402.60,543.38 L407.40,543.38 L405.00,546.38 Z" fill="#2a2a2a"/>
<circle cx="405.00" cy="537.78" r="1.15" fill="#222"/>
<rect x="410.90" y="509.47" width="11.80" height="76.23" fill="#777777"/>
<line x1="416.79999999999995" y1="509.472" x2="416.79999999999995" y2="503.0528" stroke="#2a2a2a" stroke-width="1.1"/>
<path d="M414.40,502.45 L419.20,502.45 L416.80,505.45 Z" fill="#2a2a2a"/>
<circle cx="416.80" cy="496.85" r="1.15" fill="#222"/>
<rect x="440.20" y="545.58" width="11.80" height="40.12" fill="#b6b6b6"/>
<line x1="446.09999999999997" y1="545.58" x2="446.09999999999997" y2="543.5740000000001" stroke="#2a2a2a" stroke-width="1.1"/>
<path d="M443.70,542.97 L448.50,542.97 L446.10,545.97 Z" fill="#2a2a2a"/>
<text x="446.09999999999997" y="539.974" font-size="7.4" text-anchor="middle" font-weight="normal" fill="#222" stroke="#222" stroke-width="0.24">#</text>
<rect x="452.00" y="533.95" width="11.80" height="51.75" fill="#777777"/>
<line x1="457.9" y1="533.9452" x2="457.9" y2="531.538" stroke="#2a2a2a" stroke-width="1.1"/>
<path d="M455.50,530.94 L460.30,530.94 L457.90,533.94 Z" fill="#2a2a2a"/>
<text x="457.9" y="527.938" font-size="7.4" text-anchor="middle" font-weight="normal" fill="#222" stroke="#222" stroke-width="0.24">#</text>
<text x="410.8" y="599.0" font-size="8.1" text-anchor="middle" font-weight="normal" fill="#222" stroke="#222" stroke-width="0.24">HSP70</text>
<text x="452.2" y="599.0" font-size="8.1" text-anchor="middle" font-weight="normal" fill="#222" stroke="#222" stroke-width="0.24">HSP90</text>
<text x="356.0" y="534.0" font-size="8.5" text-anchor="middle" font-weight="normal" fill="#222" stroke="#222" stroke-width="0.24" transform="rotate(-90 356.0 534.0)" textLength="93.0" lengthAdjust="spacingAndGlyphs">Relative HSP normalized</text>
<text x="366.6" y="534.0" font-size="8.3" text-anchor="middle" font-weight="normal" fill="#222" stroke="#222" stroke-width="0.24" transform="rotate(-90 366.6 534.0)">to GAPDH</text>
<rect x="440.20" y="483.50" width="3.40" height="3.80" fill="#b6b6b6"/>
<rect x="440.20" y="495.60" width="3.40" height="3.40" fill="#777777"/>
<text x="446.5" y="487.9" font-size="8.4" text-anchor="start" font-weight="normal" fill="#222" stroke="#222" stroke-width="0.24">No drug</text>
<text x="446.5" y="499.3" font-size="8.4" text-anchor="start" font-weight="normal" fill="#222" stroke="#222" stroke-width="0.24">GGA</text>
<rect x="0" y="0" width="520" height="1.5" fill="#000"/>
<rect x="0" y="0" width="1.2" height="621" fill="#000"/>
<rect x="518.2" y="0" width="1.8" height="621" fill="#000"/>
<rect x="0" y="619.0" width="520" height="2" fill="#000"/>
</svg></body></html>
